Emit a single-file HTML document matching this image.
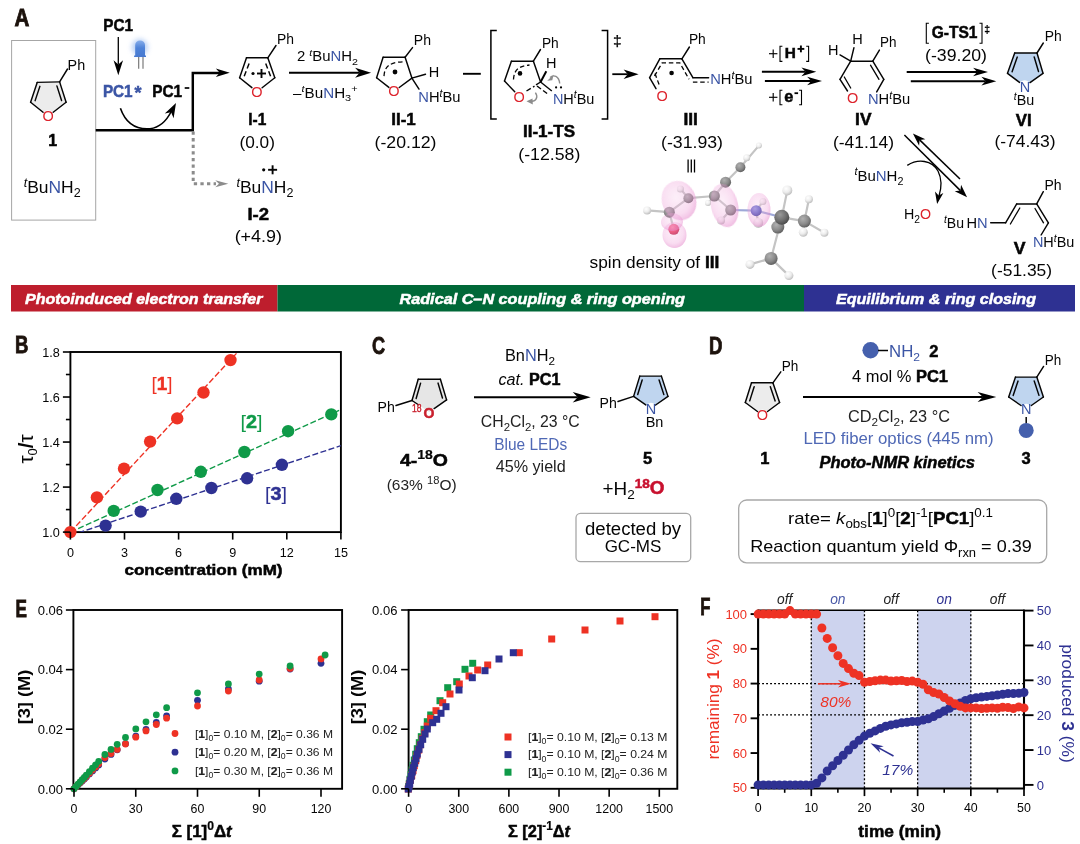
<!DOCTYPE html>
<html><head><meta charset="utf-8"><title>Figure</title>
<style>html,body{margin:0;padding:0;background:#fff}svg{display:block}text{font-family:"Liberation Sans",sans-serif}</style>
</head><body>
<svg width="1080" height="844" viewBox="0 0 1080 844">
<rect width="1080" height="844" fill="#fff"/>
<defs>
<filter id="blur05" x="-30%" y="-30%" width="160%" height="160%"><feGaussianBlur stdDeviation="0.6"/></filter>
<filter id="blur1" x="-30%" y="-30%" width="160%" height="160%"><feGaussianBlur stdDeviation="1.2"/></filter>
<filter id="blur2" x="-50%" y="-50%" width="200%" height="200%"><feGaussianBlur stdDeviation="2.6"/></filter>
<radialGradient id="gH" cx="38%" cy="32%" r="70%"><stop offset="0" stop-color="#ffffff"/><stop offset="0.55" stop-color="#ececec"/><stop offset="1" stop-color="#bdbdbd"/></radialGradient>
<radialGradient id="gC" cx="38%" cy="32%" r="70%"><stop offset="0" stop-color="#b0b0b0"/><stop offset="0.6" stop-color="#8a8a8a"/><stop offset="1" stop-color="#5e5e5e"/></radialGradient>
<radialGradient id="gCd" cx="38%" cy="32%" r="70%"><stop offset="0" stop-color="#9a9a9a"/><stop offset="0.6" stop-color="#6e6e6e"/><stop offset="1" stop-color="#4a4a4a"/></radialGradient>
<radialGradient id="gO" cx="38%" cy="32%" r="70%"><stop offset="0" stop-color="#ff6d86"/><stop offset="0.6" stop-color="#e8365a"/><stop offset="1" stop-color="#b81f42"/></radialGradient>
<radialGradient id="gN" cx="38%" cy="32%" r="70%"><stop offset="0" stop-color="#8f92e0"/><stop offset="0.6" stop-color="#5b5fc4"/><stop offset="1" stop-color="#3a3d9a"/></radialGradient>
<radialGradient id="gLobe" cx="45%" cy="40%" r="60%"><stop offset="0" stop-color="#f6c6e8" stop-opacity="0.28"/><stop offset="0.7" stop-color="#ee9fd8" stop-opacity="0.36"/><stop offset="1" stop-color="#e58acb" stop-opacity="0.55"/></radialGradient>
<linearGradient id="gLed" x1="0" y1="0" x2="0" y2="1"><stop offset="0" stop-color="#86aeeb"/><stop offset="0.45" stop-color="#4f83d8"/><stop offset="1" stop-color="#4678d0"/></linearGradient>
</defs>
<text transform="translate(14.50,26.00) scale(0.84,1)" font-size="24.5" font-weight="bold" fill="#1c120c" stroke="#1c120c" stroke-width="0.85">A</text>
<rect x="11.6" y="40.5" width="84.1" height="179.6" fill="none" stroke="#a6a6a6" stroke-width="1"/>
<polygon points="59.6,81.9 37.2,82.4 30.6,102.2 48.1,116.3 66.1,102.2" fill="#ececec"/>
<circle cx="48.1" cy="116.3" r="6" fill="#fff"/>
<line x1="59.60" y1="81.90" x2="37.20" y2="82.40" stroke="#050505" stroke-width="1.45" stroke-linecap="round"/>
<line x1="37.20" y1="82.40" x2="30.60" y2="102.20" stroke="#050505" stroke-width="1.45" stroke-linecap="round"/>
<line x1="30.60" y1="102.20" x2="43.04" y2="112.22" stroke="#050505" stroke-width="1.45" stroke-linecap="round"/>
<line x1="53.22" y1="112.29" x2="66.10" y2="102.20" stroke="#050505" stroke-width="1.45" stroke-linecap="round"/>
<line x1="66.10" y1="102.20" x2="59.60" y2="81.90" stroke="#050505" stroke-width="1.45" stroke-linecap="round"/>
<line x1="39.88" y1="86.37" x2="35.13" y2="100.63" stroke="#050505" stroke-width="1.45" stroke-linecap="round"/>
<line x1="61.57" y1="100.52" x2="56.89" y2="85.90" stroke="#050505" stroke-width="1.45" stroke-linecap="round"/>
<line x1="59.60" y1="81.90" x2="67.50" y2="69.00" stroke="#050505" stroke-width="1.45" stroke-linecap="round"/>
<text x="67.60" y="70.00" font-size="14.50" fill="#050505" textLength="17.60" lengthAdjust="spacingAndGlyphs"><tspan >Ph</tspan></text>
<text x="48.10" y="121.30" font-size="14.50" fill="#dd232c" text-anchor="middle"><tspan >O</tspan></text>
<text x="52.80" y="145.70" font-size="16.00" fill="#050505" text-anchor="middle" font-weight="bold"><tspan font-weight="bold" stroke="#050505" stroke-width="0.50">1</tspan></text>
<text x="23.70" y="192.60" font-size="16.50" fill="#050505" textLength="57.00" lengthAdjust="spacingAndGlyphs"><tspan dy="-6.10" font-size="11.88" font-style="italic">t</tspan><tspan dy="6.10">Bu</tspan><tspan fill="#3b55a5">N</tspan><tspan >H</tspan><tspan dy="4.62" font-size="11.88">2</tspan></text>
<text x="103.30" y="30.60" font-size="16.50" fill="#050505" font-weight="bold" textLength="29.70" lengthAdjust="spacingAndGlyphs"><tspan font-weight="bold" stroke="#050505" stroke-width="0.50">PC1</tspan></text>
<line x1="118.30" y1="37.00" x2="118.30" y2="64.40" stroke="#000" stroke-width="1.30" />
<polygon points="118.30,75.20 113.55,60.20 118.30,64.40 123.05,60.20" fill="#000"/>
<circle cx="139.8" cy="47.2" r="8.2" fill="#a9c6f3" opacity="0.8" filter="url(#blur2)"/>
<path d="M135.2,55.4 V45 a4.9,4.6 0 0 1 9.8,0 V55.4 H146 V57 H134.1 V55.4 Z" fill="url(#gLed)" filter="url(#blur05)"/>
<line x1="138.70" y1="57.00" x2="138.70" y2="68.70" stroke="#6e6e6e" stroke-width="1.10" />
<line x1="143.00" y1="57.00" x2="143.00" y2="68.70" stroke="#6e6e6e" stroke-width="1.10" />
<text x="102.90" y="96.90" font-size="16.50" fill="#3b55a5" font-weight="bold" textLength="29.70" lengthAdjust="spacingAndGlyphs"><tspan font-weight="bold" stroke="#3b55a5" stroke-width="0.50">PC1</tspan></text>
<text x="134.60" y="99.30" font-size="18.00" fill="#3b55a5" font-weight="bold"><tspan font-weight="bold" stroke="#3b55a5" stroke-width="0.50">*</tspan></text>
<text x="152.20" y="96.90" font-size="16.50" fill="#050505" font-weight="bold" textLength="29.90" lengthAdjust="spacingAndGlyphs"><tspan font-weight="bold" stroke="#050505" stroke-width="0.50">PC1</tspan></text>
<line x1="184.70" y1="88.00" x2="189.30" y2="88.00" stroke="#000" stroke-width="1.70" />
<path d="M95.7,130.2 H192.8 V73 H220" fill="none" stroke="#000" stroke-width="2.45" stroke-linejoin="miter"/>
<polygon points="229.80,72.80 215.80,77.05 219.72,72.80 215.80,68.55" fill="#000"/>
<path d="M120.4,108.3 C127,127 140,129.5 150,128.7 C160,127.5 167,120 171.5,111" fill="none" stroke="#000" stroke-width="1.6"/>
<polygon points="176.00,103.00 173.61,118.15 171.10,112.22 164.78,113.46" fill="#000"/>
<path d="M193.2,131.5 V183.7 H216" fill="none" stroke="#8c8c8c" stroke-width="3" stroke-dasharray="3.3,3.3"/>
<polygon points="228.30,183.70 215.30,187.20 218.94,183.70 215.30,180.20" fill="#8c8c8c"/>
<line x1="267.80" y1="57.80" x2="246.50" y2="57.80" stroke="#050505" stroke-width="1.45" stroke-linecap="round"/>
<line x1="246.50" y1="57.80" x2="239.60" y2="77.80" stroke="#050505" stroke-width="1.45" stroke-linecap="round"/>
<line x1="239.60" y1="77.80" x2="251.92" y2="87.64" stroke="#050505" stroke-width="1.45" stroke-linecap="round"/>
<line x1="262.12" y1="87.70" x2="274.80" y2="77.80" stroke="#050505" stroke-width="1.45" stroke-linecap="round"/>
<line x1="274.80" y1="77.80" x2="267.80" y2="57.80" stroke="#050505" stroke-width="1.45" stroke-linecap="round"/>
<line x1="249.10" y1="63.60" x2="244.20" y2="76.20" stroke="#050505" stroke-width="1.45" stroke-dasharray="5.3,2.9"/>
<line x1="265.70" y1="63.60" x2="270.60" y2="76.20" stroke="#050505" stroke-width="1.45" stroke-dasharray="5.3,2.9"/>
<line x1="267.80" y1="57.80" x2="276.00" y2="45.50" stroke="#050505" stroke-width="1.45" stroke-linecap="round"/>
<text x="277.00" y="44.40" font-size="14.50" fill="#050505" textLength="17.00" lengthAdjust="spacingAndGlyphs"><tspan >Ph</tspan></text>
<text x="257.00" y="96.60" font-size="14.50" fill="#dd232c" text-anchor="middle"><tspan >O</tspan></text>
<circle cx="253.00" cy="73.50" r="1.60" fill="#050505"/>
<line x1="257.00" y1="73.50" x2="266.00" y2="73.50" stroke="#050505" stroke-width="1.90" />
<line x1="261.50" y1="69.00" x2="261.50" y2="78.00" stroke="#050505" stroke-width="1.90" />
<text x="257.30" y="125.00" font-size="16.50" fill="#050505" text-anchor="middle" font-weight="bold" textLength="18.00" lengthAdjust="spacingAndGlyphs"><tspan font-weight="bold" stroke="#050505" stroke-width="0.50">I-1</tspan></text>
<text x="257.20" y="148.10" font-size="16.00" fill="#050505" text-anchor="middle" textLength="35.40" lengthAdjust="spacingAndGlyphs"><tspan >(0.0)</tspan></text>
<text x="236.40" y="192.60" font-size="16.50" fill="#050505" textLength="57.00" lengthAdjust="spacingAndGlyphs"><tspan dy="-6.10" font-size="11.88" font-style="italic">t</tspan><tspan dy="6.10">Bu</tspan><tspan fill="#3b55a5">N</tspan><tspan >H</tspan><tspan dy="4.62" font-size="11.88">2</tspan></text>
<circle cx="263.70" cy="169.80" r="1.60" fill="#050505"/>
<line x1="268.10" y1="169.80" x2="277.10" y2="169.80" stroke="#050505" stroke-width="1.90" />
<line x1="272.60" y1="165.30" x2="272.60" y2="174.30" stroke="#050505" stroke-width="1.90" />
<text x="258.20" y="220.30" font-size="16.50" fill="#050505" text-anchor="middle" font-weight="bold" textLength="21.60" lengthAdjust="spacingAndGlyphs"><tspan font-weight="bold" stroke="#050505" stroke-width="0.50">I-2</tspan></text>
<text x="258.30" y="242.40" font-size="16.00" fill="#050505" text-anchor="middle" textLength="47.30" lengthAdjust="spacingAndGlyphs"><tspan >(+4.9)</tspan></text>
<line x1="289.00" y1="72.80" x2="359.58" y2="72.80" stroke="#000" stroke-width="2.00" />
<polygon points="371.10,72.80 355.10,77.80 359.58,72.80 355.10,67.80" fill="#000"/>
<text x="296.90" y="60.70" font-size="13.80" fill="#050505" textLength="61.20" lengthAdjust="spacingAndGlyphs"><tspan >2 </tspan><tspan dy="-5.11" font-size="9.94" font-style="italic">t</tspan><tspan dy="5.11">Bu</tspan><tspan fill="#3b55a5">N</tspan><tspan >H</tspan><tspan dy="3.86" font-size="9.94">2</tspan></text>
<text x="293.10" y="97.60" font-size="13.80" fill="#050505" textLength="64.50" lengthAdjust="spacingAndGlyphs"><tspan >–</tspan><tspan dy="-5.11" font-size="9.94" font-style="italic">t</tspan><tspan dy="5.11">Bu</tspan><tspan fill="#3b55a5">N</tspan><tspan >H</tspan><tspan dy="3.86" font-size="9.94">3</tspan><tspan dy="-8.97" font-size="9.94">+</tspan></text>
<line x1="405.10" y1="57.30" x2="383.10" y2="57.30" stroke="#050505" stroke-width="1.45" stroke-linecap="round"/>
<line x1="383.10" y1="57.30" x2="376.60" y2="77.70" stroke="#050505" stroke-width="1.45" stroke-linecap="round"/>
<line x1="376.60" y1="77.70" x2="388.89" y2="87.38" stroke="#050505" stroke-width="1.45" stroke-linecap="round"/>
<line x1="399.22" y1="87.52" x2="411.90" y2="78.10" stroke="#050505" stroke-width="1.45" stroke-linecap="round"/>
<line x1="411.90" y1="78.10" x2="405.10" y2="57.30" stroke="#050505" stroke-width="1.45" stroke-linecap="round"/>
<path d="M384,76.1 C384.5,67 389,62.3 403,61.8" fill="none" stroke="#050505" stroke-width="1.3" stroke-dasharray="4.5,2.8"/>
<line x1="405.10" y1="57.30" x2="412.50" y2="47.60" stroke="#050505" stroke-width="1.45" stroke-linecap="round"/>
<text x="413.80" y="44.70" font-size="14.50" fill="#050505" textLength="17.20" lengthAdjust="spacingAndGlyphs"><tspan >Ph</tspan></text>
<text x="394.00" y="96.40" font-size="14.50" fill="#dd232c" text-anchor="middle"><tspan >O</tspan></text>
<circle cx="395.00" cy="72.00" r="2.40" fill="#050505"/>
<line x1="411.90" y1="78.10" x2="425.50" y2="74.20" stroke="#050505" stroke-width="1.45" stroke-linecap="round"/>
<text x="428.70" y="77.40" font-size="14.50" fill="#050505"><tspan >H</tspan></text>
<line x1="411.90" y1="78.10" x2="419.00" y2="89.10" stroke="#050505" stroke-width="1.45" stroke-linecap="round"/>
<text x="418.30" y="102.30" font-size="14.50" fill="#050505" textLength="42.20" lengthAdjust="spacingAndGlyphs"><tspan fill="#3b55a5">N</tspan><tspan >H</tspan><tspan dy="-5.37" font-size="10.44" font-style="italic">t</tspan><tspan dy="5.37">Bu</tspan></text>
<text x="403.50" y="125.00" font-size="16.50" fill="#050505" text-anchor="middle" font-weight="bold" textLength="24.50" lengthAdjust="spacingAndGlyphs"><tspan font-weight="bold" stroke="#050505" stroke-width="0.50">II-1</tspan></text>
<text x="405.50" y="148.10" font-size="16.00" fill="#050505" text-anchor="middle" textLength="62.00" lengthAdjust="spacingAndGlyphs"><tspan >(-20.12)</tspan></text>
<line x1="463.00" y1="73.80" x2="480.80" y2="73.80" stroke="#000" stroke-width="1.90" />
<path d="M496.8,30.6 H490.9 V118.9 H496.8" fill="none" stroke="#000" stroke-width="1.5"/>
<path d="M601.6,30.6 H607.6 V118.9 H601.6" fill="none" stroke="#000" stroke-width="1.5"/>
<text x="617.20" y="46.00" font-size="15.50" fill="#000" text-anchor="middle" stroke="#000" stroke-width="0.25"><tspan >‡</tspan></text>
<line x1="533.40" y1="61.20" x2="511.40" y2="61.20" stroke="#050505" stroke-width="1.45" stroke-linecap="round"/>
<line x1="511.40" y1="61.20" x2="504.50" y2="81.00" stroke="#050505" stroke-width="1.45" stroke-linecap="round"/>
<line x1="504.50" y1="81.00" x2="514.73" y2="91.78" stroke="#050505" stroke-width="1.45" stroke-linecap="round"/>
<line x1="540.60" y1="82.00" x2="533.40" y2="61.20" stroke="#050505" stroke-width="1.45" stroke-linecap="round"/>
<line x1="526.50" y1="91.00" x2="534.50" y2="86.20" stroke="#050505" stroke-width="1.40" stroke-dasharray="5,2.6"/>
<line x1="536.00" y1="84.80" x2="540.60" y2="82.00" stroke="#050505" stroke-width="1.40" />
<path d="M513.5,79.5 C514,70 518.5,66 529.5,65" fill="none" stroke="#050505" stroke-width="1.3" stroke-dasharray="4.5,2.8"/>
<line x1="533.40" y1="61.20" x2="540.50" y2="49.50" stroke="#050505" stroke-width="1.45" stroke-linecap="round"/>
<text x="541.90" y="47.90" font-size="14.50" fill="#050505" textLength="16.80" lengthAdjust="spacingAndGlyphs"><tspan >Ph</tspan></text>
<text x="519.20" y="101.50" font-size="14.50" fill="#dd232c" text-anchor="middle"><tspan >O</tspan></text>
<circle cx="520.00" cy="73.40" r="2.30" fill="#050505"/>
<text x="546.00" y="67.50" font-size="14.50" fill="#050505"><tspan >H</tspan></text>
<line x1="540.60" y1="82.00" x2="546.30" y2="71.30" stroke="#000" stroke-width="2.00" />
<line x1="540.60" y1="82.00" x2="551.80" y2="91.00" stroke="#050505" stroke-width="1.40" />
<line x1="537.00" y1="86.00" x2="549.00" y2="95.00" stroke="#050505" stroke-width="1.40" stroke-dasharray="5,2.6"/>
<text x="552.90" y="103.60" font-size="14.50" fill="#050505" textLength="41.50" lengthAdjust="spacingAndGlyphs"><tspan fill="#3b55a5">N</tspan><tspan >H</tspan><tspan dy="-5.37" font-size="10.44" font-style="italic">t</tspan><tspan dy="5.37">Bu</tspan></text>
<circle cx="556.10" cy="87.40" r="1.10" fill="#050505"/>
<circle cx="561.00" cy="87.40" r="1.10" fill="#050505"/>
<path d="M559.7,83.5 C559,76 553.5,74.2 550,77.5" fill="none" stroke="#8c8c8c" stroke-width="1.4"/>
<polygon points="547.2,80.8 553.6,74.8 552.3,80.2" fill="#8c8c8c"/>
<path d="M535.4,92.6 C538.5,97 536,101.5 531.5,101.3" fill="none" stroke="#8c8c8c" stroke-width="1.4"/>
<polygon points="526.5,101.2 532.5,98.6 532.8,104.6" fill="#8c8c8c"/>
<text x="549.00" y="137.00" font-size="16.50" fill="#050505" text-anchor="middle" font-weight="bold" textLength="52.00" lengthAdjust="spacingAndGlyphs"><tspan font-weight="bold" stroke="#050505" stroke-width="0.50">II-1-TS</tspan></text>
<text x="549.30" y="159.80" font-size="16.00" fill="#050505" text-anchor="middle" textLength="62.00" lengthAdjust="spacingAndGlyphs"><tspan >(-12.58)</tspan></text>
<line x1="612.30" y1="74.20" x2="627.80" y2="74.20" stroke="#000" stroke-width="1.80" />
<polygon points="638.60,74.20 623.60,78.90 627.80,74.20 623.60,69.50" fill="#000"/>
<line x1="649.60" y1="77.70" x2="659.80" y2="58.80" stroke="#050505" stroke-width="1.45" stroke-linecap="round"/>
<line x1="659.80" y1="58.80" x2="681.90" y2="58.80" stroke="#050505" stroke-width="1.45" stroke-linecap="round"/>
<line x1="681.90" y1="58.80" x2="692.90" y2="77.70" stroke="#050505" stroke-width="1.45" stroke-linecap="round"/>
<line x1="692.90" y1="77.70" x2="708.60" y2="77.70" stroke="#050505" stroke-width="1.45" stroke-linecap="round"/>
<line x1="649.60" y1="77.70" x2="656.00" y2="88.70" stroke="#050505" stroke-width="1.45" stroke-linecap="round"/>
<line x1="655.00" y1="73.50" x2="659.60" y2="86.00" stroke="#050505" stroke-width="1.30" stroke-dasharray="4.5,2.8"/>
<path d="M654.5,76 L662.2,62.8 H679.8 L689,79.2" fill="none" stroke="#050505" stroke-width="1.3" stroke-dasharray="4.5,2.8"/>
<line x1="692.90" y1="82.10" x2="708.60" y2="82.10" stroke="#050505" stroke-width="1.30" stroke-dasharray="4.5,2.8"/>
<line x1="681.90" y1="58.80" x2="689.40" y2="47.00" stroke="#050505" stroke-width="1.45" stroke-linecap="round"/>
<text x="688.90" y="44.30" font-size="14.50" fill="#050505" textLength="16.90" lengthAdjust="spacingAndGlyphs"><tspan >Ph</tspan></text>
<text x="662.20" y="100.80" font-size="14.50" fill="#dd232c" text-anchor="middle"><tspan >O</tspan></text>
<circle cx="671.60" cy="73.00" r="2.30" fill="#050505"/>
<text x="710.20" y="84.30" font-size="14.50" fill="#050505" textLength="42.20" lengthAdjust="spacingAndGlyphs"><tspan fill="#3b55a5">N</tspan><tspan >H</tspan><tspan dy="-5.37" font-size="10.44" font-style="italic">t</tspan><tspan dy="5.37">Bu</tspan></text>
<text x="690.70" y="125.00" font-size="16.50" fill="#050505" text-anchor="middle" font-weight="bold" textLength="14.50" lengthAdjust="spacingAndGlyphs"><tspan font-weight="bold" stroke="#050505" stroke-width="0.50">III</tspan></text>
<text x="692.00" y="148.10" font-size="16.00" fill="#050505" text-anchor="middle" textLength="62.00" lengthAdjust="spacingAndGlyphs"><tspan >(-31.93)</tspan></text>
<line x1="688.10" y1="159.50" x2="688.10" y2="172.50" stroke="#000" stroke-width="1.30" />
<line x1="691.30" y1="159.50" x2="691.30" y2="172.50" stroke="#000" stroke-width="1.30" />
<line x1="694.50" y1="159.50" x2="694.50" y2="172.50" stroke="#000" stroke-width="1.30" />
<line x1="761.90" y1="71.80" x2="805.57" y2="71.80" stroke="#000" stroke-width="2.10" />
<polygon points="816.30,71.80 801.40,76.15 805.57,71.80 801.40,67.45" fill="#000"/>
<line x1="764.90" y1="81.00" x2="811.27" y2="81.00" stroke="#000" stroke-width="2.10" />
<polygon points="822.00,81.00 807.10,85.35 811.27,81.00 807.10,76.65" fill="#000"/>
<line x1="769.00" y1="53.70" x2="777.40" y2="53.70" stroke="#050505" stroke-width="1.15" />
<line x1="773.20" y1="49.50" x2="773.20" y2="57.90" stroke="#050505" stroke-width="1.15" />
<path d="M782.4,46.3 H780 V61.4 H782.4" fill="none" stroke="#000" stroke-width="1.1"/>
<path d="M806.2,46.3 H808.6 V61.4 H806.2" fill="none" stroke="#000" stroke-width="1.1"/>
<text x="784.70" y="58.20" font-size="15.50" fill="#050505" font-weight="bold" textLength="11.10" lengthAdjust="spacingAndGlyphs"><tspan font-weight="bold" stroke="#050505" stroke-width="0.50">H</tspan></text>
<line x1="797.50" y1="48.90" x2="804.30" y2="48.90" stroke="#050505" stroke-width="1.90" />
<line x1="800.90" y1="45.50" x2="800.90" y2="52.30" stroke="#050505" stroke-width="1.90" />
<line x1="769.00" y1="97.30" x2="777.40" y2="97.30" stroke="#050505" stroke-width="1.15" />
<line x1="773.20" y1="93.10" x2="773.20" y2="101.50" stroke="#050505" stroke-width="1.15" />
<path d="M782.4,90.3 H780 V104.8 H782.4" fill="none" stroke="#000" stroke-width="1.1"/>
<path d="M799.1,90.3 H801.5 V104.8 H799.1" fill="none" stroke="#000" stroke-width="1.1"/>
<text x="784.20" y="102.30" font-size="16.00" fill="#050505" font-weight="bold" textLength="9.10" lengthAdjust="spacingAndGlyphs"><tspan font-weight="bold" stroke="#050505" stroke-width="0.50">e</tspan></text>
<line x1="794.50" y1="93.20" x2="798.10" y2="93.20" stroke="#000" stroke-width="1.80" />
<line x1="840.00" y1="79.30" x2="850.70" y2="61.20" stroke="#050505" stroke-width="1.45" stroke-linecap="round"/>
<line x1="850.70" y1="61.20" x2="872.80" y2="61.20" stroke="#050505" stroke-width="1.45" stroke-linecap="round"/>
<line x1="872.80" y1="61.20" x2="883.80" y2="79.30" stroke="#050505" stroke-width="1.45" stroke-linecap="round"/>
<line x1="840.00" y1="79.30" x2="847.50" y2="91.00" stroke="#050505" stroke-width="1.45" stroke-linecap="round"/>
<line x1="844.30" y1="77.00" x2="850.70" y2="88.00" stroke="#050505" stroke-width="1.30" stroke-linecap="round"/>
<line x1="870.50" y1="65.20" x2="879.00" y2="79.30" stroke="#050505" stroke-width="1.30" stroke-linecap="round"/>
<line x1="850.70" y1="61.20" x2="840.00" y2="54.90" stroke="#050505" stroke-width="1.45" stroke-linecap="round"/>
<line x1="850.70" y1="61.20" x2="853.90" y2="47.80" stroke="#050505" stroke-width="1.45" stroke-linecap="round"/>
<text x="827.90" y="54.90" font-size="14.50" fill="#050505"><tspan >H</tspan></text>
<text x="852.30" y="44.30" font-size="14.50" fill="#050505"><tspan >H</tspan></text>
<line x1="872.80" y1="61.20" x2="879.40" y2="50.10" stroke="#050505" stroke-width="1.45" stroke-linecap="round"/>
<text x="879.90" y="47.00" font-size="14.50" fill="#050505" textLength="16.50" lengthAdjust="spacingAndGlyphs"><tspan >Ph</tspan></text>
<line x1="883.80" y1="79.30" x2="876.70" y2="91.90" stroke="#050505" stroke-width="1.45" stroke-linecap="round"/>
<text x="852.60" y="103.20" font-size="14.50" fill="#dd232c" text-anchor="middle"><tspan >O</tspan></text>
<text x="868.00" y="104.00" font-size="14.50" fill="#050505" textLength="42.20" lengthAdjust="spacingAndGlyphs"><tspan fill="#3b55a5">N</tspan><tspan >H</tspan><tspan dy="-5.37" font-size="10.44" font-style="italic">t</tspan><tspan dy="5.37">Bu</tspan></text>
<text x="863.30" y="124.80" font-size="16.50" fill="#050505" text-anchor="middle" font-weight="bold" textLength="16.40" lengthAdjust="spacingAndGlyphs"><tspan font-weight="bold" stroke="#050505" stroke-width="0.50">IV</tspan></text>
<text x="863.50" y="148.10" font-size="16.00" fill="#050505" text-anchor="middle" textLength="61.00" lengthAdjust="spacingAndGlyphs"><tspan >(-41.14)</tspan></text>
<line x1="906.70" y1="72.00" x2="977.27" y2="72.00" stroke="#000" stroke-width="2.10" />
<polygon points="988.00,72.00 973.10,76.35 977.27,72.00 973.10,67.65" fill="#000"/>
<line x1="910.80" y1="81.20" x2="985.57" y2="81.20" stroke="#000" stroke-width="2.10" />
<polygon points="996.30,81.20 981.40,85.55 985.57,81.20 981.40,76.85" fill="#000"/>
<path d="M928.9,23.3 H926.3 V43.3 H928.9" fill="none" stroke="#000" stroke-width="1.1"/>
<path d="M979.5,23.3 H982 V43.3 H979.5" fill="none" stroke="#000" stroke-width="1.1"/>
<text x="931.70" y="37.50" font-size="16.50" fill="#050505" font-weight="bold" textLength="45.80" lengthAdjust="spacingAndGlyphs"><tspan font-weight="bold" stroke="#050505" stroke-width="0.50">G-TS1</tspan></text>
<text x="987.20" y="32.60" font-size="10.50" fill="#000" text-anchor="middle" font-weight="bold"><tspan font-weight="bold" stroke="#000" stroke-width="0.20">‡</tspan></text>
<text x="956.00" y="60.80" font-size="16.00" fill="#050505" text-anchor="middle" textLength="62.00" lengthAdjust="spacingAndGlyphs"><tspan >(-39.20)</tspan></text>
<polygon points="1037.0,53.0 1014.7,53.0 1007.5,73.3 1024.7,86.3 1043.0,73.3" fill="#bfd5ef"/>
<circle cx="1024.7" cy="86.3" r="6" fill="#fff"/>
<line x1="1037.00" y1="53.00" x2="1014.70" y2="53.00" stroke="#050505" stroke-width="1.45" stroke-linecap="round"/>
<line x1="1014.70" y1="53.00" x2="1007.50" y2="73.30" stroke="#050505" stroke-width="1.45" stroke-linecap="round"/>
<line x1="1007.50" y1="73.30" x2="1019.51" y2="82.38" stroke="#050505" stroke-width="1.45" stroke-linecap="round"/>
<line x1="1030.00" y1="82.54" x2="1043.00" y2="73.30" stroke="#050505" stroke-width="1.45" stroke-linecap="round"/>
<line x1="1043.00" y1="73.30" x2="1037.00" y2="53.00" stroke="#050505" stroke-width="1.45" stroke-linecap="round"/>
<line x1="1017.27" y1="57.11" x2="1012.09" y2="71.73" stroke="#050505" stroke-width="1.45" stroke-linecap="round"/>
<line x1="1038.52" y1="71.54" x2="1034.20" y2="56.92" stroke="#050505" stroke-width="1.45" stroke-linecap="round"/>
<line x1="1037.00" y1="53.00" x2="1043.30" y2="43.00" stroke="#050505" stroke-width="1.45" stroke-linecap="round"/>
<text x="1044.70" y="40.50" font-size="14.50" fill="#050505" textLength="17.00" lengthAdjust="spacingAndGlyphs"><tspan >Ph</tspan></text>
<text x="1024.90" y="91.70" font-size="14.50" fill="#3b55a5" text-anchor="middle"><tspan >N</tspan></text>
<text x="1013.80" y="105.30" font-size="14.50" fill="#050505" textLength="20.40" lengthAdjust="spacingAndGlyphs"><tspan dy="-5.37" font-size="10.44" font-style="italic">t</tspan><tspan dy="5.37">Bu</tspan></text>
<text x="1023.80" y="125.60" font-size="16.50" fill="#050505" text-anchor="middle" font-weight="bold" textLength="15.90" lengthAdjust="spacingAndGlyphs"><tspan font-weight="bold" stroke="#050505" stroke-width="0.50">VI</tspan></text>
<text x="1025.00" y="147.20" font-size="16.00" fill="#050505" text-anchor="middle" textLength="61.20" lengthAdjust="spacingAndGlyphs"><tspan >(-74.43)</tspan></text>
<line x1="960.00" y1="179.00" x2="919.62" y2="139.91" stroke="#000" stroke-width="1.50" />
<polygon points="912.90,133.40 925.37,139.21 919.62,139.91 919.11,145.68" fill="#000"/>
<line x1="904.40" y1="135.00" x2="960.46" y2="190.61" stroke="#000" stroke-width="1.50" />
<polygon points="967.10,197.20 954.70,191.24 960.46,190.61 961.04,184.85" fill="#000"/>
<path d="M907.3,165.4 C918,158.5 932,160 938,171 C942,179 941.5,188 939,196" fill="none" stroke="#000" stroke-width="1.3"/>
<polygon points="937.10,204.00 935.00,191.44 938.60,195.49 943.37,192.92" fill="#000"/>
<text x="854.40" y="180.60" font-size="14.00" fill="#050505" textLength="49.00" lengthAdjust="spacingAndGlyphs"><tspan dy="-5.18" font-size="10.08" font-style="italic">t</tspan><tspan dy="5.18">Bu</tspan><tspan fill="#3b55a5">N</tspan><tspan >H</tspan><tspan dy="3.92" font-size="10.08">2</tspan></text>
<text x="904.00" y="219.40" font-size="14.00" fill="#050505" textLength="27.10" lengthAdjust="spacingAndGlyphs"><tspan >H</tspan><tspan dy="3.92" font-size="10.08">2</tspan><tspan dy="-3.92" fill="#dd232c">O</tspan></text>
<text x="944.00" y="228.30" font-size="14.00" fill="#050505" textLength="20.00" lengthAdjust="spacingAndGlyphs"><tspan dy="-5.18" font-size="10.08" font-style="italic">t</tspan><tspan dy="5.18">Bu</tspan></text>
<text x="966.40" y="228.30" font-size="14.00" fill="#050505" textLength="21.20" lengthAdjust="spacingAndGlyphs"><tspan >H</tspan><tspan fill="#3b55a5">N</tspan></text>
<line x1="990.70" y1="222.80" x2="1005.60" y2="222.80" stroke="#050505" stroke-width="1.45" stroke-linecap="round"/>
<line x1="1005.60" y1="222.80" x2="1016.70" y2="203.90" stroke="#050505" stroke-width="1.45" stroke-linecap="round"/>
<line x1="1016.70" y1="203.90" x2="1036.70" y2="203.90" stroke="#050505" stroke-width="1.45" stroke-linecap="round"/>
<line x1="1036.70" y1="203.90" x2="1048.40" y2="222.80" stroke="#050505" stroke-width="1.45" stroke-linecap="round"/>
<line x1="1010.40" y1="224.00" x2="1019.80" y2="208.00" stroke="#050505" stroke-width="1.30" stroke-linecap="round"/>
<line x1="1035.00" y1="208.50" x2="1043.50" y2="222.80" stroke="#050505" stroke-width="1.30" stroke-linecap="round"/>
<line x1="1036.70" y1="203.90" x2="1043.30" y2="191.70" stroke="#050505" stroke-width="1.45" stroke-linecap="round"/>
<text x="1044.40" y="189.90" font-size="14.00" fill="#050505" textLength="17.20" lengthAdjust="spacingAndGlyphs"><tspan >Ph</tspan></text>
<line x1="1048.40" y1="222.80" x2="1041.10" y2="235.00" stroke="#050505" stroke-width="1.45" stroke-linecap="round"/>
<text x="1032.90" y="246.80" font-size="14.00" fill="#050505" textLength="41.50" lengthAdjust="spacingAndGlyphs"><tspan fill="#3b55a5">N</tspan><tspan >H</tspan><tspan dy="-5.18" font-size="10.08" font-style="italic">t</tspan><tspan dy="5.18">Bu</tspan></text>
<text x="1019.70" y="253.90" font-size="16.50" fill="#050505" text-anchor="middle" font-weight="bold" textLength="11.80" lengthAdjust="spacingAndGlyphs"><tspan font-weight="bold" stroke="#050505" stroke-width="0.50">V</tspan></text>
<text x="1021.60" y="276.00" font-size="16.00" fill="#050505" text-anchor="middle" textLength="61.00" lengthAdjust="spacingAndGlyphs"><tspan >(-51.35)</tspan></text>
<text x="589.60" y="267.60" font-size="17.00" fill="#050505" textLength="129.70" lengthAdjust="spacingAndGlyphs"><tspan >spin density of </tspan><tspan font-weight="bold" stroke="#050505" stroke-width="0.50">III</tspan></text>
<rect x="11" y="285" width="266.5" height="26.5" fill="#be1e2d"/>
<rect x="277.5" y="285" width="526.5" height="26.5" fill="#006838"/>
<rect x="804" y="285" width="271" height="26.5" fill="#2e3192"/>
<text x="25.00" y="303.50" font-size="14.50" fill="#fff" font-weight="bold" font-style="italic" textLength="237.50" lengthAdjust="spacingAndGlyphs"><tspan font-weight="bold" stroke="#fff" stroke-width="0.50">Photoinduced electron transfer</tspan></text>
<text x="399.50" y="303.50" font-size="14.50" fill="#fff" font-weight="bold" font-style="italic" textLength="285.50" lengthAdjust="spacingAndGlyphs"><tspan font-weight="bold" stroke="#fff" stroke-width="0.50">Radical C–N coupling &amp; ring opening</tspan></text>
<text x="836.00" y="303.50" font-size="14.50" fill="#fff" font-weight="bold" font-style="italic" textLength="200.00" lengthAdjust="spacingAndGlyphs"><tspan font-weight="bold" stroke="#fff" stroke-width="0.50">Equilibrium &amp; ring closing</tspan></text>
<g>
<line x1="758.90" y1="145.60" x2="740.40" y2="167.30" stroke="#c4c4c4" stroke-width="2.20" stroke-linecap="round"/>
<line x1="740.40" y1="167.30" x2="725.60" y2="182.20" stroke="#c4c4c4" stroke-width="2.20" stroke-linecap="round"/>
<line x1="725.60" y1="182.20" x2="714.40" y2="196.00" stroke="#c4c4c4" stroke-width="2.20" stroke-linecap="round"/>
<line x1="714.40" y1="196.00" x2="688.40" y2="198.20" stroke="#c4c4c4" stroke-width="2.20" stroke-linecap="round"/>
<line x1="688.40" y1="198.20" x2="680.40" y2="188.90" stroke="#c4c4c4" stroke-width="2.20" stroke-linecap="round"/>
<line x1="688.40" y1="198.20" x2="669.30" y2="212.20" stroke="#c4c4c4" stroke-width="2.20" stroke-linecap="round"/>
<line x1="669.30" y1="212.20" x2="647.10" y2="210.40" stroke="#c4c4c4" stroke-width="2.20" stroke-linecap="round"/>
<line x1="669.30" y1="212.20" x2="673.80" y2="229.30" stroke="#c4c4c4" stroke-width="2.20" stroke-linecap="round"/>
<line x1="714.40" y1="196.00" x2="730.70" y2="210.00" stroke="#c4c4c4" stroke-width="2.20" stroke-linecap="round"/>
<line x1="730.70" y1="210.00" x2="721.00" y2="220.40" stroke="#c4c4c4" stroke-width="2.20" stroke-linecap="round"/>
<line x1="714.40" y1="196.00" x2="708.00" y2="203.00" stroke="#c4c4c4" stroke-width="2.20" stroke-linecap="round"/>
<line x1="730.70" y1="210.00" x2="756.20" y2="210.70" stroke="#9fa8d8" stroke-width="2.20" stroke-linecap="round"/>
<line x1="756.20" y1="210.70" x2="762.90" y2="201.60" stroke="#c4c4c4" stroke-width="2.20" stroke-linecap="round"/>
<line x1="756.20" y1="210.70" x2="781.80" y2="217.30" stroke="#9fa8d8" stroke-width="2.20" stroke-linecap="round"/>
<line x1="781.80" y1="217.30" x2="787.30" y2="190.40" stroke="#c4c4c4" stroke-width="2.20" stroke-linecap="round"/>
<line x1="781.80" y1="217.30" x2="804.40" y2="221.10" stroke="#c4c4c4" stroke-width="2.20" stroke-linecap="round"/>
<line x1="804.40" y1="221.10" x2="808.90" y2="199.30" stroke="#c4c4c4" stroke-width="2.20" stroke-linecap="round"/>
<line x1="804.40" y1="221.10" x2="824.40" y2="232.70" stroke="#c4c4c4" stroke-width="2.20" stroke-linecap="round"/>
<line x1="804.40" y1="221.10" x2="803.30" y2="232.20" stroke="#c4c4c4" stroke-width="2.20" stroke-linecap="round"/>
<line x1="781.80" y1="217.30" x2="771.10" y2="258.40" stroke="#c4c4c4" stroke-width="2.20" stroke-linecap="round"/>
<line x1="771.10" y1="258.40" x2="750.00" y2="264.40" stroke="#c4c4c4" stroke-width="2.20" stroke-linecap="round"/>
<line x1="771.10" y1="258.40" x2="788.90" y2="275.60" stroke="#c4c4c4" stroke-width="2.20" stroke-linecap="round"/>
<line x1="781.80" y1="217.30" x2="777.80" y2="227.10" stroke="#c4c4c4" stroke-width="2.20" stroke-linecap="round"/>
<line x1="756.20" y1="210.70" x2="758.20" y2="222.90" stroke="#c4c4c4" stroke-width="2.20" stroke-linecap="round"/>
<circle cx="746.7" cy="157.8" r="3.5" fill="url(#gH)"/>
<circle cx="740.4" cy="167.3" r="5.0" fill="url(#gC)"/>
<circle cx="758.9" cy="145.6" r="3.0" fill="url(#gH)"/>
<circle cx="725.6" cy="182.2" r="5.5" fill="url(#gC)"/>
<circle cx="708.0" cy="203.0" r="3.0" fill="url(#gH)"/>
<circle cx="714.4" cy="196.0" r="5.5" fill="url(#gC)"/>
<circle cx="688.4" cy="198.2" r="5.0" fill="url(#gC)"/>
<circle cx="680.4" cy="188.9" r="3.5" fill="url(#gH)"/>
<circle cx="669.3" cy="212.2" r="5.5" fill="url(#gC)"/>
<circle cx="647.1" cy="210.4" r="4.0" fill="url(#gH)"/>
<circle cx="673.8" cy="229.3" r="5.5" fill="url(#gO)"/>
<circle cx="730.7" cy="210.0" r="5.5" fill="url(#gC)"/>
<circle cx="721.0" cy="220.4" r="4.0" fill="url(#gH)"/>
<circle cx="762.9" cy="201.6" r="3.5" fill="url(#gH)"/>
<circle cx="756.2" cy="210.7" r="5.5" fill="url(#gN)"/>
<circle cx="758.2" cy="222.9" r="5.0" fill="url(#gH)"/>
<circle cx="777.8" cy="227.1" r="6.5" fill="url(#gC)"/>
<circle cx="771.1" cy="258.4" r="6.5" fill="url(#gC)"/>
<circle cx="750.0" cy="264.4" r="4.5" fill="url(#gH)"/>
<circle cx="788.9" cy="275.6" r="4.5" fill="url(#gH)"/>
<circle cx="804.4" cy="221.1" r="6.5" fill="url(#gC)"/>
<circle cx="808.9" cy="199.3" r="4.0" fill="url(#gH)"/>
<circle cx="824.4" cy="232.7" r="4.0" fill="url(#gH)"/>
<circle cx="803.3" cy="232.2" r="4.5" fill="url(#gH)"/>
<circle cx="781.8" cy="217.3" r="7.5" fill="url(#gCd)"/>
<circle cx="787.3" cy="190.4" r="5.0" fill="url(#gH)"/>
<ellipse cx="679.0" cy="200.5" rx="17.0" ry="20.0" transform="rotate(-20 679.0 200.5)" fill="url(#gLobe)" filter="url(#blur05)"/>
<ellipse cx="674.5" cy="235.0" rx="12.0" ry="13.0" transform="rotate(0 674.5 235.0)" fill="url(#gLobe)" filter="url(#blur05)"/>
<ellipse cx="724.5" cy="205.5" rx="13.5" ry="22.0" transform="rotate(-12 724.5 205.5)" fill="url(#gLobe)" filter="url(#blur05)"/>
<ellipse cx="759.0" cy="210.0" rx="11.5" ry="17.0" transform="rotate(0 759.0 210.0)" fill="url(#gLobe)" filter="url(#blur05)"/>
<ellipse cx="672.0" cy="222.0" rx="11.0" ry="9.0" transform="rotate(0 672.0 222.0)" fill="url(#gLobe)" filter="url(#blur05)"/>
</g>
<text transform="translate(15.00,353.00) scale(0.76,1)" font-size="24.5" font-weight="bold" fill="#1c120c" stroke="#1c120c" stroke-width="0.85">B</text>
<clipPath id="clipB"><rect x="70.4" y="352.0" width="270.5" height="180.1"/></clipPath>
<rect x="70.4" y="352.0" width="270.5" height="180.1" fill="none" stroke="#000" stroke-width="1.9"/>
<g clip-path="url(#clipB)">
<line x1="70.40" y1="532.10" x2="250.73" y2="338.04" stroke="#ee3224" stroke-width="1.40" stroke-dasharray="6,2.5"/>
<line x1="70.40" y1="532.10" x2="340.90" y2="409.52" stroke="#0f9a48" stroke-width="1.40" stroke-dasharray="6,2.5"/>
<line x1="70.40" y1="535.48" x2="340.90" y2="445.65" stroke="#2e3192" stroke-width="1.40" stroke-dasharray="6,2.5"/>
</g>
<circle cx="105.6" cy="525.6" r="6.2" fill="#2e3192"/>
<circle cx="140.7" cy="511.6" r="6.2" fill="#2e3192"/>
<circle cx="176.3" cy="498.8" r="6.2" fill="#2e3192"/>
<circle cx="211.4" cy="488.0" r="6.2" fill="#2e3192"/>
<circle cx="247.1" cy="478.3" r="6.2" fill="#2e3192"/>
<circle cx="281.9" cy="464.8" r="6.2" fill="#2e3192"/>
<circle cx="113.7" cy="510.9" r="6.2" fill="#0f9a48"/>
<circle cx="157.5" cy="490.0" r="6.2" fill="#0f9a48"/>
<circle cx="200.8" cy="471.8" r="6.2" fill="#0f9a48"/>
<circle cx="244.4" cy="452.0" r="6.2" fill="#0f9a48"/>
<circle cx="288.1" cy="431.2" r="6.2" fill="#0f9a48"/>
<circle cx="331.3" cy="414.4" r="6.2" fill="#0f9a48"/>
<circle cx="70.4" cy="532.1" r="6.2" fill="#ee3224"/>
<circle cx="96.9" cy="497.4" r="6.2" fill="#ee3224"/>
<circle cx="124.0" cy="468.6" r="6.2" fill="#ee3224"/>
<circle cx="150.1" cy="441.6" r="6.2" fill="#ee3224"/>
<circle cx="177.2" cy="418.4" r="6.2" fill="#ee3224"/>
<circle cx="203.5" cy="392.5" r="6.2" fill="#ee3224"/>
<circle cx="230.5" cy="360.1" r="6.2" fill="#ee3224"/>
<line x1="70.40" y1="532.10" x2="70.40" y2="539.60" stroke="#000" stroke-width="1.60" />
<text x="70.40" y="556.60" font-size="12.60" fill="#050505" text-anchor="middle"><tspan >0</tspan></text>
<line x1="124.50" y1="532.10" x2="124.50" y2="539.60" stroke="#000" stroke-width="1.60" />
<text x="124.50" y="556.60" font-size="12.60" fill="#050505" text-anchor="middle"><tspan >3</tspan></text>
<line x1="178.60" y1="532.10" x2="178.60" y2="539.60" stroke="#000" stroke-width="1.60" />
<text x="178.60" y="556.60" font-size="12.60" fill="#050505" text-anchor="middle"><tspan >6</tspan></text>
<line x1="232.70" y1="532.10" x2="232.70" y2="539.60" stroke="#000" stroke-width="1.60" />
<text x="232.70" y="556.60" font-size="12.60" fill="#050505" text-anchor="middle"><tspan >9</tspan></text>
<line x1="286.80" y1="532.10" x2="286.80" y2="539.60" stroke="#000" stroke-width="1.60" />
<text x="286.80" y="556.60" font-size="12.60" fill="#050505" text-anchor="middle"><tspan >12</tspan></text>
<line x1="340.90" y1="532.10" x2="340.90" y2="539.60" stroke="#000" stroke-width="1.60" />
<text x="340.90" y="556.60" font-size="12.60" fill="#050505" text-anchor="middle"><tspan >15</tspan></text>
<line x1="62.90" y1="532.10" x2="70.40" y2="532.10" stroke="#000" stroke-width="1.60" />
<text x="59.90" y="536.70" font-size="13.50" fill="#050505" text-anchor="end" textLength="17.60" lengthAdjust="spacingAndGlyphs"><tspan >1.0</tspan></text>
<line x1="62.90" y1="487.08" x2="70.40" y2="487.08" stroke="#000" stroke-width="1.60" />
<text x="59.90" y="491.68" font-size="13.50" fill="#050505" text-anchor="end" textLength="17.60" lengthAdjust="spacingAndGlyphs"><tspan >1.2</tspan></text>
<line x1="62.90" y1="442.05" x2="70.40" y2="442.05" stroke="#000" stroke-width="1.60" />
<text x="59.90" y="446.65" font-size="13.50" fill="#050505" text-anchor="end" textLength="17.60" lengthAdjust="spacingAndGlyphs"><tspan >1.4</tspan></text>
<line x1="62.90" y1="397.02" x2="70.40" y2="397.02" stroke="#000" stroke-width="1.60" />
<text x="59.90" y="401.62" font-size="13.50" fill="#050505" text-anchor="end" textLength="17.60" lengthAdjust="spacingAndGlyphs"><tspan >1.6</tspan></text>
<line x1="62.90" y1="352.00" x2="70.40" y2="352.00" stroke="#000" stroke-width="1.60" />
<text x="59.90" y="356.60" font-size="13.50" fill="#050505" text-anchor="end" textLength="17.60" lengthAdjust="spacingAndGlyphs"><tspan >1.8</tspan></text>
<line x1="65.90" y1="509.59" x2="70.40" y2="509.59" stroke="#000" stroke-width="1.60" />
<line x1="65.90" y1="464.56" x2="70.40" y2="464.56" stroke="#000" stroke-width="1.60" />
<line x1="65.90" y1="419.54" x2="70.40" y2="419.54" stroke="#000" stroke-width="1.60" />
<line x1="65.90" y1="374.51" x2="70.40" y2="374.51" stroke="#000" stroke-width="1.60" />
<text x="203.50" y="575.40" font-size="14.50" fill="#050505" text-anchor="middle" font-weight="bold" textLength="158.00" lengthAdjust="spacingAndGlyphs"><tspan font-weight="bold" stroke="#050505" stroke-width="0.50">concentration (mM)</tspan></text>
<text transform="translate(33,449) rotate(-90)" text-anchor="middle" font-size="20.5" fill="#050505">τ<tspan font-size="13" dy="4">0</tspan><tspan dy="-4" font-weight="bold">/</tspan>τ</text>
<text x="162.00" y="390.00" font-size="18.00" fill="#ee3224" text-anchor="middle" textLength="21.00" lengthAdjust="spacingAndGlyphs"><tspan >[</tspan><tspan font-weight="bold" stroke="#ee3224" stroke-width="0.50">1</tspan><tspan >]</tspan></text>
<text x="251.50" y="428.00" font-size="18.00" fill="#0f9a48" text-anchor="middle" textLength="22.00" lengthAdjust="spacingAndGlyphs"><tspan >[</tspan><tspan font-weight="bold" stroke="#0f9a48" stroke-width="0.50">2</tspan><tspan >]</tspan></text>
<text x="276.00" y="500.00" font-size="18.00" fill="#2e3192" text-anchor="middle" textLength="22.00" lengthAdjust="spacingAndGlyphs"><tspan >[</tspan><tspan font-weight="bold" stroke="#2e3192" stroke-width="0.50">3</tspan><tspan >]</tspan></text>
<text transform="translate(372.00,354.00) scale(0.74,1)" font-size="24.5" font-weight="bold" fill="#1c120c" stroke="#1c120c" stroke-width="0.85">C</text>
<polygon points="412.0,400.5 418.2,379.2 440.4,379.2 446.6,399.9 429.2,412.0" fill="#e6e6e6"/>
<line x1="412.00" y1="400.50" x2="418.20" y2="379.20" stroke="#050505" stroke-width="1.45" stroke-linecap="round"/>
<line x1="418.20" y1="379.20" x2="440.40" y2="379.20" stroke="#050505" stroke-width="1.45" stroke-linecap="round"/>
<line x1="440.40" y1="379.20" x2="446.60" y2="399.90" stroke="#050505" stroke-width="1.45" stroke-linecap="round"/>
<line x1="446.60" y1="399.90" x2="434.13" y2="408.57" stroke="#050505" stroke-width="1.45" stroke-linecap="round"/>
<line x1="418.39" y1="404.77" x2="412.00" y2="400.50" stroke="#050505" stroke-width="1.45" stroke-linecap="round"/>
<line x1="416.13" y1="398.47" x2="420.60" y2="383.13" stroke="#050505" stroke-width="1.45" stroke-linecap="round"/>
<line x1="438.01" y1="383.07" x2="442.47" y2="397.98" stroke="#050505" stroke-width="1.45" stroke-linecap="round"/>
<line x1="412.00" y1="400.50" x2="396.00" y2="405.50" stroke="#050505" stroke-width="1.45" stroke-linecap="round"/>
<text x="377.50" y="412.00" font-size="14.50" fill="#050505" textLength="17.30" lengthAdjust="spacingAndGlyphs"><tspan >Ph</tspan></text>
<text x="412.00" y="412.20" font-size="10.00" fill="#c9202d" textLength="9.60" lengthAdjust="spacingAndGlyphs" stroke="#c9202d" stroke-width="0.35"><tspan >18</tspan></text>
<text x="429.00" y="417.60" font-size="14.00" fill="#c9202d" text-anchor="middle"><tspan font-weight="bold" stroke="#c9202d" stroke-width="0.50">O</tspan></text>
<text x="424.00" y="465.50" font-size="16.50" fill="#050505" text-anchor="middle" textLength="48.00" lengthAdjust="spacingAndGlyphs"><tspan font-weight="bold" stroke="#050505" stroke-width="0.50">4-</tspan><tspan dy="-6.10" font-size="11.88" font-weight="bold" stroke="#050505" stroke-width="0.20">18</tspan><tspan dy="6.10" font-weight="bold" stroke="#050505" stroke-width="0.50">O</tspan></text>
<text x="421.70" y="490.00" font-size="15.00" fill="#222" text-anchor="middle" textLength="70.00" lengthAdjust="spacingAndGlyphs"><tspan >(63% </tspan><tspan dy="-5.55" font-size="10.80">18</tspan><tspan dy="5.55">O)</tspan></text>
<line x1="474.00" y1="397.30" x2="577.74" y2="397.30" stroke="#000" stroke-width="2.00" />
<polygon points="590.70,397.30 572.70,402.55 577.74,397.30 572.70,392.05" fill="#000"/>
<text x="530.00" y="360.50" font-size="16.00" fill="#050505" text-anchor="middle" textLength="50.00" lengthAdjust="spacingAndGlyphs"><tspan >Bn</tspan><tspan fill="#3b55a5">N</tspan><tspan >H</tspan><tspan dy="4.48" font-size="11.52">2</tspan></text>
<text x="529.50" y="384.50" font-size="16.00" fill="#050505" text-anchor="middle" textLength="62.00" lengthAdjust="spacingAndGlyphs"><tspan font-style="italic">cat.</tspan><tspan > </tspan><tspan font-weight="bold" stroke="#050505" stroke-width="0.50">PC1</tspan></text>
<text x="530.30" y="427.00" font-size="16.00" fill="#222" text-anchor="middle" textLength="99.00" lengthAdjust="spacingAndGlyphs"><tspan >CH</tspan><tspan dy="4.48" font-size="11.52">2</tspan><tspan dy="-4.48">Cl</tspan><tspan dy="4.48" font-size="11.52">2</tspan><tspan dy="-4.48">, 23 °C</tspan></text>
<text x="530.70" y="449.50" font-size="16.00" fill="#4f68b5" text-anchor="middle" textLength="73.00" lengthAdjust="spacingAndGlyphs"><tspan >Blue LEDs</tspan></text>
<text x="530.70" y="471.50" font-size="16.00" fill="#222" text-anchor="middle" textLength="70.00" lengthAdjust="spacingAndGlyphs"><tspan >45% yield</tspan></text>
<polygon points="633.6,396.4 639.8,376.1 661.4,376.1 668.0,396.4 650.7,408.4" fill="#bfd5ef"/>
<circle cx="651" cy="408.3" r="5.5" fill="#fff"/>
<line x1="633.60" y1="396.40" x2="639.80" y2="376.10" stroke="#050505" stroke-width="1.45" stroke-linecap="round"/>
<line x1="639.80" y1="376.10" x2="661.40" y2="376.10" stroke="#050505" stroke-width="1.45" stroke-linecap="round"/>
<line x1="661.40" y1="376.10" x2="668.00" y2="396.40" stroke="#050505" stroke-width="1.45" stroke-linecap="round"/>
<line x1="668.00" y1="396.40" x2="655.63" y2="404.98" stroke="#050505" stroke-width="1.45" stroke-linecap="round"/>
<line x1="645.79" y1="404.95" x2="633.60" y2="396.40" stroke="#050505" stroke-width="1.45" stroke-linecap="round"/>
<line x1="637.72" y1="394.55" x2="642.18" y2="379.94" stroke="#050505" stroke-width="1.45" stroke-linecap="round"/>
<line x1="659.09" y1="379.99" x2="663.84" y2="394.61" stroke="#050505" stroke-width="1.45" stroke-linecap="round"/>
<line x1="633.60" y1="396.40" x2="618.00" y2="401.50" stroke="#050505" stroke-width="1.45" stroke-linecap="round"/>
<text x="599.50" y="408.00" font-size="14.50" fill="#050505" textLength="17.30" lengthAdjust="spacingAndGlyphs"><tspan >Ph</tspan></text>
<text x="651.00" y="413.50" font-size="14.50" fill="#3b55a5" text-anchor="middle"><tspan >N</tspan></text>
<text x="654.50" y="427.00" font-size="14.50" fill="#050505" text-anchor="middle" textLength="17.70" lengthAdjust="spacingAndGlyphs"><tspan >Bn</tspan></text>
<text x="647.70" y="463.60" font-size="16.50" fill="#050505" text-anchor="middle" font-weight="bold"><tspan font-weight="bold" stroke="#050505" stroke-width="0.50">5</tspan></text>
<text x="633.50" y="494.50" font-size="17.50" fill="#050505" text-anchor="middle" textLength="62.00" lengthAdjust="spacingAndGlyphs"><tspan >+H</tspan><tspan dy="4.90" font-size="12.60">2</tspan><tspan dy="-11.38" font-size="12.60" font-weight="bold" stroke="#c8102e" stroke-width="0.50" fill="#c8102e">18</tspan><tspan dy="6.47" font-weight="bold" stroke="#c8102e" stroke-width="0.50" fill="#c8102e">O</tspan></text>
<rect x="576" y="513.3" width="114.7" height="48.4" rx="4.5" fill="#fff" stroke="#a8a8a8" stroke-width="1.3"/>
<text x="633.00" y="535.30" font-size="17.50" fill="#050505" text-anchor="middle" textLength="96.00" lengthAdjust="spacingAndGlyphs"><tspan >detected by</tspan></text>
<text x="633.00" y="552.00" font-size="17.00" fill="#050505" text-anchor="middle" textLength="56.70" lengthAdjust="spacingAndGlyphs"><tspan >GC-MS</tspan></text>
<text transform="translate(709.00,354.00) scale(0.76,1)" font-size="24.5" font-weight="bold" fill="#1c120c" stroke="#1c120c" stroke-width="0.85">D</text>
<polygon points="772.9,382.8 751.5,382.8 745.3,402.5 762.5,415.3 779.6,402.5" fill="#ececec"/>
<circle cx="762.5" cy="415.3" r="5.8" fill="#fff"/>
<line x1="772.90" y1="382.80" x2="751.50" y2="382.80" stroke="#050505" stroke-width="1.45" stroke-linecap="round"/>
<line x1="751.50" y1="382.80" x2="745.30" y2="402.50" stroke="#050505" stroke-width="1.45" stroke-linecap="round"/>
<line x1="745.30" y1="402.50" x2="757.45" y2="411.54" stroke="#050505" stroke-width="1.45" stroke-linecap="round"/>
<line x1="767.54" y1="411.52" x2="779.60" y2="402.50" stroke="#050505" stroke-width="1.45" stroke-linecap="round"/>
<line x1="779.60" y1="402.50" x2="772.90" y2="382.80" stroke="#050505" stroke-width="1.45" stroke-linecap="round"/>
<line x1="754.16" y1="386.67" x2="749.70" y2="400.85" stroke="#050505" stroke-width="1.45" stroke-linecap="round"/>
<line x1="775.16" y1="400.93" x2="770.34" y2="386.75" stroke="#050505" stroke-width="1.45" stroke-linecap="round"/>
<line x1="772.90" y1="382.80" x2="780.80" y2="371.80" stroke="#050505" stroke-width="1.45" stroke-linecap="round"/>
<text x="781.70" y="370.90" font-size="14.50" fill="#050505" textLength="16.60" lengthAdjust="spacingAndGlyphs"><tspan >Ph</tspan></text>
<text x="762.50" y="420.40" font-size="14.50" fill="#dd232c" text-anchor="middle"><tspan >O</tspan></text>
<text x="764.90" y="463.80" font-size="16.50" fill="#050505" text-anchor="middle" font-weight="bold"><tspan font-weight="bold" stroke="#050505" stroke-width="0.50">1</tspan></text>
<line x1="803.00" y1="397.00" x2="982.84" y2="397.00" stroke="#000" stroke-width="2.00" />
<polygon points="996.30,397.00 977.60,402.10 982.84,397.00 977.60,391.90" fill="#000"/>
<circle cx="870.6" cy="350.3" r="8.2" fill="#4560ad"/>
<line x1="878.00" y1="350.50" x2="888.00" y2="350.50" stroke="#050505" stroke-width="1.50" />
<text x="889.00" y="357.00" font-size="16.00" fill="#050505" textLength="31.00" lengthAdjust="spacingAndGlyphs"><tspan fill="#3b55a5">NH</tspan><tspan dy="4.48" font-size="11.52" fill="#3b55a5">2</tspan></text>
<text x="933.80" y="356.90" font-size="16.50" fill="#050505" text-anchor="middle" font-weight="bold"><tspan font-weight="bold" stroke="#050505" stroke-width="0.50">2</tspan></text>
<text x="900.00" y="382.00" font-size="16.00" fill="#050505" text-anchor="middle" textLength="96.00" lengthAdjust="spacingAndGlyphs"><tspan >4 mol % </tspan><tspan font-weight="bold" stroke="#050505" stroke-width="0.50">PC1</tspan></text>
<text x="899.00" y="422.00" font-size="16.00" fill="#222" text-anchor="middle" textLength="102.00" lengthAdjust="spacingAndGlyphs"><tspan >CD</tspan><tspan dy="4.48" font-size="11.52">2</tspan><tspan dy="-4.48">Cl</tspan><tspan dy="4.48" font-size="11.52">2</tspan><tspan dy="-4.48">, 23 °C</tspan></text>
<text x="898.50" y="444.20" font-size="16.00" fill="#4f68b5" text-anchor="middle" textLength="190.00" lengthAdjust="spacingAndGlyphs"><tspan >LED fiber optics (445 nm)</tspan></text>
<text x="897.20" y="467.50" font-size="16.00" fill="#050505" text-anchor="middle" font-weight="bold" font-style="italic" textLength="155.50" lengthAdjust="spacingAndGlyphs"><tspan font-weight="bold" stroke="#050505" stroke-width="0.50">Photo-NMR kinetics</tspan></text>
<polygon points="1036.8,377.1 1015.5,377.1 1008.7,397.0 1026.2,409.1 1043.4,397.0" fill="#bfd5ef"/>
<circle cx="1026.2" cy="409.1" r="5.3" fill="#fff"/>
<line x1="1036.80" y1="377.10" x2="1015.50" y2="377.10" stroke="#050505" stroke-width="1.45" stroke-linecap="round"/>
<line x1="1015.50" y1="377.10" x2="1008.70" y2="397.00" stroke="#050505" stroke-width="1.45" stroke-linecap="round"/>
<line x1="1008.70" y1="397.00" x2="1021.02" y2="405.52" stroke="#050505" stroke-width="1.45" stroke-linecap="round"/>
<line x1="1031.35" y1="405.48" x2="1043.40" y2="397.00" stroke="#050505" stroke-width="1.45" stroke-linecap="round"/>
<line x1="1043.40" y1="397.00" x2="1036.80" y2="377.10" stroke="#050505" stroke-width="1.45" stroke-linecap="round"/>
<line x1="1018.05" y1="381.08" x2="1013.15" y2="395.41" stroke="#050505" stroke-width="1.45" stroke-linecap="round"/>
<line x1="1038.96" y1="395.38" x2="1034.21" y2="381.05" stroke="#050505" stroke-width="1.45" stroke-linecap="round"/>
<line x1="1036.80" y1="377.10" x2="1043.60" y2="366.40" stroke="#050505" stroke-width="1.45" stroke-linecap="round"/>
<text x="1044.80" y="364.60" font-size="14.50" fill="#050505" textLength="16.50" lengthAdjust="spacingAndGlyphs"><tspan >Ph</tspan></text>
<text x="1026.20" y="414.30" font-size="14.50" fill="#3b55a5" text-anchor="middle"><tspan >N</tspan></text>
<line x1="1026.20" y1="417.10" x2="1026.20" y2="423.50" stroke="#050505" stroke-width="1.50" />
<circle cx="1026.2" cy="430.4" r="7.5" fill="#4560ad"/>
<text x="1026.20" y="463.60" font-size="16.50" fill="#050505" text-anchor="middle" font-weight="bold"><tspan font-weight="bold" stroke="#050505" stroke-width="0.50">3</tspan></text>
<rect x="738.7" y="500" width="308" height="62.8" rx="8" fill="#fff" stroke="#a8a8a8" stroke-width="1.3"/>
<text x="890.50" y="523.50" font-size="17.00" fill="#050505" text-anchor="middle" textLength="205.00" lengthAdjust="spacingAndGlyphs"><tspan >rate= </tspan><tspan font-style="italic">k</tspan><tspan dy="4.76" font-size="12.24">obs</tspan><tspan dy="-4.76">[</tspan><tspan font-weight="bold" stroke="#050505" stroke-width="0.50">1</tspan><tspan >]</tspan><tspan dy="-6.29" font-size="12.24">0</tspan><tspan dy="6.29">[</tspan><tspan font-weight="bold" stroke="#050505" stroke-width="0.50">2</tspan><tspan >]</tspan><tspan dy="-6.29" font-size="12.24">-1</tspan><tspan dy="6.29">[</tspan><tspan font-weight="bold" stroke="#050505" stroke-width="0.50">PC1</tspan><tspan >]</tspan><tspan dy="-6.29" font-size="12.24">0.1</tspan></text>
<text x="891.00" y="552.00" font-size="17.00" fill="#050505" text-anchor="middle" textLength="281.50" lengthAdjust="spacingAndGlyphs"><tspan >Reaction quantum yield Φ</tspan><tspan dy="4.76" font-size="12.24">rxn</tspan><tspan dy="-4.76"> = 0.39</tspan></text>
<text transform="translate(15.50,617.00) scale(0.70,1)" font-size="24.5" font-weight="bold" fill="#1c120c" stroke="#1c120c" stroke-width="0.85">E</text>
<rect x="73.4" y="610.0" width="268.7" height="178.8" fill="none" stroke="#000" stroke-width="1.9"/>
<circle cx="74.0" cy="788.8" r="3.4" fill="#2e3192"/>
<circle cx="76.1" cy="786.8" r="3.4" fill="#2e3192"/>
<circle cx="78.1" cy="784.8" r="3.4" fill="#2e3192"/>
<circle cx="80.2" cy="782.8" r="3.4" fill="#2e3192"/>
<circle cx="82.2" cy="780.9" r="3.4" fill="#2e3192"/>
<circle cx="84.3" cy="778.9" r="3.4" fill="#2e3192"/>
<circle cx="86.3" cy="776.9" r="3.4" fill="#2e3192"/>
<circle cx="89.4" cy="773.9" r="3.4" fill="#2e3192"/>
<circle cx="92.5" cy="770.9" r="3.4" fill="#2e3192"/>
<circle cx="95.6" cy="767.9" r="3.4" fill="#2e3192"/>
<circle cx="98.7" cy="765.0" r="3.4" fill="#2e3192"/>
<circle cx="104.9" cy="759.0" r="3.4" fill="#2e3192"/>
<circle cx="111.0" cy="754.4" r="3.4" fill="#2e3192"/>
<circle cx="117.2" cy="749.8" r="3.4" fill="#2e3192"/>
<circle cx="125.5" cy="743.7" r="3.4" fill="#2e3192"/>
<circle cx="135.8" cy="736.1" r="3.4" fill="#2e3192"/>
<circle cx="146.0" cy="729.3" r="3.4" fill="#2e3192"/>
<circle cx="156.3" cy="722.5" r="3.4" fill="#2e3192"/>
<circle cx="166.6" cy="715.8" r="3.4" fill="#2e3192"/>
<circle cx="197.5" cy="700.3" r="3.4" fill="#2e3192"/>
<circle cx="228.4" cy="689.0" r="3.4" fill="#2e3192"/>
<circle cx="259.2" cy="681.2" r="3.4" fill="#2e3192"/>
<circle cx="290.1" cy="669.0" r="3.4" fill="#2e3192"/>
<circle cx="321.0" cy="663.3" r="3.4" fill="#2e3192"/>
<circle cx="74.0" cy="788.8" r="3.4" fill="#ee3224"/>
<circle cx="76.1" cy="786.7" r="3.4" fill="#ee3224"/>
<circle cx="78.1" cy="784.6" r="3.4" fill="#ee3224"/>
<circle cx="80.2" cy="782.5" r="3.4" fill="#ee3224"/>
<circle cx="82.2" cy="780.5" r="3.4" fill="#ee3224"/>
<circle cx="84.3" cy="778.4" r="3.4" fill="#ee3224"/>
<circle cx="86.3" cy="776.3" r="3.4" fill="#ee3224"/>
<circle cx="89.4" cy="773.2" r="3.4" fill="#ee3224"/>
<circle cx="92.5" cy="770.0" r="3.4" fill="#ee3224"/>
<circle cx="95.6" cy="766.9" r="3.4" fill="#ee3224"/>
<circle cx="98.7" cy="763.8" r="3.4" fill="#ee3224"/>
<circle cx="104.9" cy="757.5" r="3.4" fill="#ee3224"/>
<circle cx="111.0" cy="753.5" r="3.4" fill="#ee3224"/>
<circle cx="117.2" cy="749.4" r="3.4" fill="#ee3224"/>
<circle cx="125.5" cy="744.0" r="3.4" fill="#ee3224"/>
<circle cx="135.8" cy="737.2" r="3.4" fill="#ee3224"/>
<circle cx="146.0" cy="730.9" r="3.4" fill="#ee3224"/>
<circle cx="156.3" cy="724.5" r="3.4" fill="#ee3224"/>
<circle cx="166.6" cy="718.2" r="3.4" fill="#ee3224"/>
<circle cx="197.5" cy="706.0" r="3.4" fill="#ee3224"/>
<circle cx="228.4" cy="691.1" r="3.4" fill="#ee3224"/>
<circle cx="259.2" cy="680.0" r="3.4" fill="#ee3224"/>
<circle cx="290.1" cy="668.4" r="3.4" fill="#ee3224"/>
<circle cx="321.0" cy="658.9" r="3.4" fill="#ee3224"/>
<circle cx="74.0" cy="788.8" r="3.4" fill="#0f9a48"/>
<circle cx="76.1" cy="786.5" r="3.4" fill="#0f9a48"/>
<circle cx="78.1" cy="784.2" r="3.4" fill="#0f9a48"/>
<circle cx="80.2" cy="781.9" r="3.4" fill="#0f9a48"/>
<circle cx="82.2" cy="779.7" r="3.4" fill="#0f9a48"/>
<circle cx="84.3" cy="777.4" r="3.4" fill="#0f9a48"/>
<circle cx="86.3" cy="775.1" r="3.4" fill="#0f9a48"/>
<circle cx="89.4" cy="771.7" r="3.4" fill="#0f9a48"/>
<circle cx="92.5" cy="768.2" r="3.4" fill="#0f9a48"/>
<circle cx="95.6" cy="764.8" r="3.4" fill="#0f9a48"/>
<circle cx="98.7" cy="761.4" r="3.4" fill="#0f9a48"/>
<circle cx="104.9" cy="754.5" r="3.4" fill="#0f9a48"/>
<circle cx="111.0" cy="749.4" r="3.4" fill="#0f9a48"/>
<circle cx="117.2" cy="744.3" r="3.4" fill="#0f9a48"/>
<circle cx="125.5" cy="737.4" r="3.4" fill="#0f9a48"/>
<circle cx="135.8" cy="728.9" r="3.4" fill="#0f9a48"/>
<circle cx="146.0" cy="721.8" r="3.4" fill="#0f9a48"/>
<circle cx="156.3" cy="714.8" r="3.4" fill="#0f9a48"/>
<circle cx="166.6" cy="707.7" r="3.4" fill="#0f9a48"/>
<circle cx="197.5" cy="692.8" r="3.4" fill="#0f9a48"/>
<circle cx="228.4" cy="683.9" r="3.4" fill="#0f9a48"/>
<circle cx="259.2" cy="674.1" r="3.4" fill="#0f9a48"/>
<circle cx="290.1" cy="666.0" r="3.4" fill="#0f9a48"/>
<circle cx="325.1" cy="655.0" r="3.4" fill="#0f9a48"/>
<line x1="74.00" y1="788.80" x2="74.00" y2="796.80" stroke="#000" stroke-width="1.60" />
<text x="74.00" y="812.90" font-size="12.40" fill="#050505" text-anchor="middle"><tspan >0</tspan></text>
<line x1="135.75" y1="788.80" x2="135.75" y2="796.80" stroke="#000" stroke-width="1.60" />
<text x="135.75" y="812.90" font-size="12.40" fill="#050505" text-anchor="middle"><tspan >30</tspan></text>
<line x1="197.50" y1="788.80" x2="197.50" y2="796.80" stroke="#000" stroke-width="1.60" />
<text x="197.50" y="812.90" font-size="12.40" fill="#050505" text-anchor="middle"><tspan >60</tspan></text>
<line x1="259.25" y1="788.80" x2="259.25" y2="796.80" stroke="#000" stroke-width="1.60" />
<text x="259.25" y="812.90" font-size="12.40" fill="#050505" text-anchor="middle"><tspan >90</tspan></text>
<line x1="321.00" y1="788.80" x2="321.00" y2="796.80" stroke="#000" stroke-width="1.60" />
<text x="321.00" y="812.90" font-size="12.40" fill="#050505" text-anchor="middle"><tspan >120</tspan></text>
<line x1="65.90" y1="788.80" x2="73.40" y2="788.80" stroke="#000" stroke-width="1.60" />
<text x="63.00" y="793.60" font-size="13.50" fill="#050505" text-anchor="end" textLength="25.30" lengthAdjust="spacingAndGlyphs"><tspan >0.00</tspan></text>
<line x1="65.90" y1="729.20" x2="73.40" y2="729.20" stroke="#000" stroke-width="1.60" />
<text x="63.00" y="734.00" font-size="13.50" fill="#050505" text-anchor="end" textLength="25.30" lengthAdjust="spacingAndGlyphs"><tspan >0.02</tspan></text>
<line x1="65.90" y1="669.60" x2="73.40" y2="669.60" stroke="#000" stroke-width="1.60" />
<text x="63.00" y="674.40" font-size="13.50" fill="#050505" text-anchor="end" textLength="25.30" lengthAdjust="spacingAndGlyphs"><tspan >0.04</tspan></text>
<line x1="65.90" y1="610.00" x2="73.40" y2="610.00" stroke="#000" stroke-width="1.60" />
<text x="63.00" y="614.80" font-size="13.50" fill="#050505" text-anchor="end" textLength="25.30" lengthAdjust="spacingAndGlyphs"><tspan >0.06</tspan></text>
<text x="201.70" y="836.50" font-size="16.50" fill="#050505" text-anchor="middle" font-weight="bold" textLength="60.00" lengthAdjust="spacingAndGlyphs"><tspan font-weight="bold" stroke="#050505" stroke-width="0.50">Σ [1]</tspan><tspan dy="-6.10" font-size="11.88" font-weight="bold" stroke="#050505" stroke-width="0.20">0</tspan><tspan dy="6.10" font-weight="bold" stroke="#050505" stroke-width="0.50">Δ</tspan><tspan font-weight="bold" stroke="#050505" stroke-width="0.50" font-style="italic">t</tspan></text>
<text transform="translate(29.5,697) rotate(-90)" text-anchor="middle" textLength="54.7" lengthAdjust="spacingAndGlyphs" font-size="16.5" font-weight="bold" fill="#050505">[3] (M)</text>
<circle cx="175" cy="733.5" r="3.4" fill="#ee3224"/>
<text x="195.00" y="737.50" font-size="11.50" fill="#222" textLength="138.00" lengthAdjust="spacingAndGlyphs"><tspan >[</tspan><tspan font-weight="bold" stroke="#222" stroke-width="0.20">1</tspan><tspan >]</tspan><tspan dy="3.22" font-size="8.28">0</tspan><tspan dy="-3.22">= 0.10 M, [</tspan><tspan font-weight="bold" stroke="#222" stroke-width="0.20">2</tspan><tspan >]</tspan><tspan dy="3.22" font-size="8.28">0</tspan><tspan dy="-3.22">= 0.36 M</tspan></text>
<circle cx="175" cy="752.2" r="3.4" fill="#2e3192"/>
<text x="195.00" y="756.20" font-size="11.50" fill="#222" textLength="138.00" lengthAdjust="spacingAndGlyphs"><tspan >[</tspan><tspan font-weight="bold" stroke="#222" stroke-width="0.20">1</tspan><tspan >]</tspan><tspan dy="3.22" font-size="8.28">0</tspan><tspan dy="-3.22">= 0.20 M, [</tspan><tspan font-weight="bold" stroke="#222" stroke-width="0.20">2</tspan><tspan >]</tspan><tspan dy="3.22" font-size="8.28">0</tspan><tspan dy="-3.22">= 0.36 M</tspan></text>
<circle cx="175" cy="770.9" r="3.4" fill="#0f9a48"/>
<text x="195.00" y="774.90" font-size="11.50" fill="#222" textLength="138.00" lengthAdjust="spacingAndGlyphs"><tspan >[</tspan><tspan font-weight="bold" stroke="#222" stroke-width="0.20">1</tspan><tspan >]</tspan><tspan dy="3.22" font-size="8.28">0</tspan><tspan dy="-3.22">= 0.30 M, [</tspan><tspan font-weight="bold" stroke="#222" stroke-width="0.20">2</tspan><tspan >]</tspan><tspan dy="3.22" font-size="8.28">0</tspan><tspan dy="-3.22">= 0.36 M</tspan></text>
<rect x="408.6" y="610.0" width="268.7" height="178.8" fill="none" stroke="#000" stroke-width="1.9"/>
<rect x="469.2" y="659.8" width="7" height="7" fill="#0f9a48"/>
<rect x="461.5" y="665.8" width="7" height="7" fill="#0f9a48"/>
<rect x="453.2" y="678.2" width="7" height="7" fill="#0f9a48"/>
<rect x="444.2" y="684.2" width="7" height="7" fill="#0f9a48"/>
<rect x="436.5" y="697.2" width="7" height="7" fill="#0f9a48"/>
<rect x="427.2" y="711.5" width="7" height="7" fill="#0f9a48"/>
<rect x="423.8" y="718.2" width="7" height="7" fill="#0f9a48"/>
<rect x="420.5" y="725.8" width="7" height="7" fill="#0f9a48"/>
<rect x="417.8" y="733.2" width="7" height="7" fill="#0f9a48"/>
<rect x="415.8" y="739.2" width="7" height="7" fill="#0f9a48"/>
<rect x="413.8" y="745.2" width="7" height="7" fill="#0f9a48"/>
<rect x="412.2" y="750.8" width="7" height="7" fill="#0f9a48"/>
<rect x="410.8" y="756.5" width="7" height="7" fill="#0f9a48"/>
<rect x="409.5" y="761.8" width="7" height="7" fill="#0f9a48"/>
<rect x="408.5" y="766.5" width="7" height="7" fill="#0f9a48"/>
<rect x="407.5" y="771.2" width="7" height="7" fill="#0f9a48"/>
<rect x="406.5" y="775.8" width="7" height="7" fill="#0f9a48"/>
<rect x="405.8" y="779.8" width="7" height="7" fill="#0f9a48"/>
<rect x="405.2" y="783.2" width="7" height="7" fill="#0f9a48"/>
<rect x="651.5" y="613.2" width="7" height="7" fill="#ee3224"/>
<rect x="616.5" y="617.5" width="7" height="7" fill="#ee3224"/>
<rect x="581.5" y="626.5" width="7" height="7" fill="#ee3224"/>
<rect x="548.2" y="635.5" width="7" height="7" fill="#ee3224"/>
<rect x="515.8" y="649.2" width="7" height="7" fill="#ee3224"/>
<rect x="484.2" y="661.5" width="7" height="7" fill="#ee3224"/>
<rect x="474.2" y="666.5" width="7" height="7" fill="#ee3224"/>
<rect x="465.5" y="672.5" width="7" height="7" fill="#ee3224"/>
<rect x="455.8" y="680.5" width="7" height="7" fill="#ee3224"/>
<rect x="446.5" y="690.5" width="7" height="7" fill="#ee3224"/>
<rect x="439.2" y="699.2" width="7" height="7" fill="#ee3224"/>
<rect x="432.5" y="707.2" width="7" height="7" fill="#ee3224"/>
<rect x="427.2" y="714.8" width="7" height="7" fill="#ee3224"/>
<rect x="423.8" y="722.5" width="7" height="7" fill="#ee3224"/>
<rect x="421.2" y="729.2" width="7" height="7" fill="#ee3224"/>
<rect x="418.8" y="735.2" width="7" height="7" fill="#ee3224"/>
<rect x="416.8" y="741.2" width="7" height="7" fill="#ee3224"/>
<rect x="415.2" y="746.5" width="7" height="7" fill="#ee3224"/>
<rect x="413.5" y="751.8" width="7" height="7" fill="#ee3224"/>
<rect x="412.2" y="757.2" width="7" height="7" fill="#ee3224"/>
<rect x="410.8" y="762.2" width="7" height="7" fill="#ee3224"/>
<rect x="409.5" y="767.2" width="7" height="7" fill="#ee3224"/>
<rect x="408.2" y="772.2" width="7" height="7" fill="#ee3224"/>
<rect x="406.8" y="776.8" width="7" height="7" fill="#ee3224"/>
<rect x="405.8" y="781.2" width="7" height="7" fill="#ee3224"/>
<rect x="404.8" y="785.5" width="7" height="7" fill="#ee3224"/>
<rect x="509.8" y="649.2" width="7" height="7" fill="#2e3192"/>
<rect x="495.5" y="655.5" width="7" height="7" fill="#2e3192"/>
<rect x="481.5" y="667.2" width="7" height="7" fill="#2e3192"/>
<rect x="468.8" y="674.2" width="7" height="7" fill="#2e3192"/>
<rect x="455.5" y="686.5" width="7" height="7" fill="#2e3192"/>
<rect x="442.5" y="703.2" width="7" height="7" fill="#2e3192"/>
<rect x="437.5" y="709.8" width="7" height="7" fill="#2e3192"/>
<rect x="433.2" y="715.8" width="7" height="7" fill="#2e3192"/>
<rect x="429.2" y="719.2" width="7" height="7" fill="#2e3192"/>
<rect x="423.8" y="725.5" width="7" height="7" fill="#2e3192"/>
<rect x="421.5" y="730.5" width="7" height="7" fill="#2e3192"/>
<rect x="419.2" y="735.8" width="7" height="7" fill="#2e3192"/>
<rect x="417.2" y="741.2" width="7" height="7" fill="#2e3192"/>
<rect x="415.5" y="745.8" width="7" height="7" fill="#2e3192"/>
<rect x="413.8" y="750.5" width="7" height="7" fill="#2e3192"/>
<rect x="412.5" y="755.2" width="7" height="7" fill="#2e3192"/>
<rect x="411.2" y="759.8" width="7" height="7" fill="#2e3192"/>
<rect x="409.8" y="764.2" width="7" height="7" fill="#2e3192"/>
<rect x="408.8" y="768.5" width="7" height="7" fill="#2e3192"/>
<rect x="407.8" y="772.8" width="7" height="7" fill="#2e3192"/>
<rect x="406.8" y="776.8" width="7" height="7" fill="#2e3192"/>
<rect x="406.2" y="780.5" width="7" height="7" fill="#2e3192"/>
<rect x="405.5" y="783.2" width="7" height="7" fill="#2e3192"/>
<rect x="404.8" y="785.5" width="7" height="7" fill="#2e3192"/>
<line x1="408.60" y1="788.80" x2="408.60" y2="796.80" stroke="#000" stroke-width="1.60" />
<text x="408.60" y="812.90" font-size="12.40" fill="#050505" text-anchor="middle"><tspan >0</tspan></text>
<line x1="458.74" y1="788.80" x2="458.74" y2="796.80" stroke="#000" stroke-width="1.60" />
<text x="458.74" y="812.90" font-size="12.40" fill="#050505" text-anchor="middle"><tspan >300</tspan></text>
<line x1="508.88" y1="788.80" x2="508.88" y2="796.80" stroke="#000" stroke-width="1.60" />
<text x="508.88" y="812.90" font-size="12.40" fill="#050505" text-anchor="middle"><tspan >600</tspan></text>
<line x1="559.02" y1="788.80" x2="559.02" y2="796.80" stroke="#000" stroke-width="1.60" />
<text x="559.02" y="812.90" font-size="12.40" fill="#050505" text-anchor="middle"><tspan >900</tspan></text>
<line x1="609.16" y1="788.80" x2="609.16" y2="796.80" stroke="#000" stroke-width="1.60" />
<text x="609.16" y="812.90" font-size="12.40" fill="#050505" text-anchor="middle"><tspan >1200</tspan></text>
<line x1="659.30" y1="788.80" x2="659.30" y2="796.80" stroke="#000" stroke-width="1.60" />
<text x="659.30" y="812.90" font-size="12.40" fill="#050505" text-anchor="middle"><tspan >1500</tspan></text>
<line x1="401.10" y1="788.80" x2="408.60" y2="788.80" stroke="#000" stroke-width="1.60" />
<text x="397.40" y="793.60" font-size="13.50" fill="#050505" text-anchor="end" textLength="25.30" lengthAdjust="spacingAndGlyphs"><tspan >0.00</tspan></text>
<line x1="401.10" y1="729.20" x2="408.60" y2="729.20" stroke="#000" stroke-width="1.60" />
<text x="397.40" y="734.00" font-size="13.50" fill="#050505" text-anchor="end" textLength="25.30" lengthAdjust="spacingAndGlyphs"><tspan >0.02</tspan></text>
<line x1="401.10" y1="669.60" x2="408.60" y2="669.60" stroke="#000" stroke-width="1.60" />
<text x="397.40" y="674.40" font-size="13.50" fill="#050505" text-anchor="end" textLength="25.30" lengthAdjust="spacingAndGlyphs"><tspan >0.04</tspan></text>
<line x1="401.10" y1="610.00" x2="408.60" y2="610.00" stroke="#000" stroke-width="1.60" />
<text x="397.40" y="614.80" font-size="13.50" fill="#050505" text-anchor="end" textLength="25.30" lengthAdjust="spacingAndGlyphs"><tspan >0.06</tspan></text>
<text x="539.00" y="836.50" font-size="16.50" fill="#050505" text-anchor="middle" font-weight="bold" textLength="62.00" lengthAdjust="spacingAndGlyphs"><tspan font-weight="bold" stroke="#050505" stroke-width="0.50">Σ [2]</tspan><tspan dy="-6.10" font-size="11.88" font-weight="bold" stroke="#050505" stroke-width="0.20">-1</tspan><tspan dy="6.10" font-weight="bold" stroke="#050505" stroke-width="0.50">Δ</tspan><tspan font-weight="bold" stroke="#050505" stroke-width="0.50" font-style="italic">t</tspan></text>
<text transform="translate(362.5,697) rotate(-90)" text-anchor="middle" textLength="54.7" lengthAdjust="spacingAndGlyphs" font-size="16.5" font-weight="bold" fill="#050505">[3] (M)</text>
<rect x="504.5" y="733.5" width="7" height="7" fill="#ee3224"/>
<text x="528.00" y="740.80" font-size="11.50" fill="#222" textLength="139.50" lengthAdjust="spacingAndGlyphs"><tspan >[</tspan><tspan font-weight="bold" stroke="#222" stroke-width="0.20">1</tspan><tspan >]</tspan><tspan dy="3.22" font-size="8.28">0</tspan><tspan dy="-3.22">= 0.10 M, [</tspan><tspan font-weight="bold" stroke="#222" stroke-width="0.20">2</tspan><tspan >]</tspan><tspan dy="3.22" font-size="8.28">0</tspan><tspan dy="-3.22">= 0.13 M</tspan></text>
<rect x="504.5" y="751.1" width="7" height="7" fill="#2e3192"/>
<text x="528.00" y="758.40" font-size="11.50" fill="#222" textLength="139.50" lengthAdjust="spacingAndGlyphs"><tspan >[</tspan><tspan font-weight="bold" stroke="#222" stroke-width="0.20">1</tspan><tspan >]</tspan><tspan dy="3.22" font-size="8.28">0</tspan><tspan dy="-3.22">= 0.10 M, [</tspan><tspan font-weight="bold" stroke="#222" stroke-width="0.20">2</tspan><tspan >]</tspan><tspan dy="3.22" font-size="8.28">0</tspan><tspan dy="-3.22">= 0.24 M</tspan></text>
<rect x="504.5" y="768.7" width="7" height="7" fill="#0f9a48"/>
<text x="528.00" y="776.00" font-size="11.50" fill="#222" textLength="139.50" lengthAdjust="spacingAndGlyphs"><tspan >[</tspan><tspan font-weight="bold" stroke="#222" stroke-width="0.20">1</tspan><tspan >]</tspan><tspan dy="3.22" font-size="8.28">0</tspan><tspan dy="-3.22">= 0.10 M, [</tspan><tspan font-weight="bold" stroke="#222" stroke-width="0.20">2</tspan><tspan >]</tspan><tspan dy="3.22" font-size="8.28">0</tspan><tspan dy="-3.22">= 0.36 M</tspan></text>
<text transform="translate(700.30,614.50) scale(0.68,1)" font-size="24.5" font-weight="bold" fill="#1c120c" stroke="#1c120c" stroke-width="0.85">F</text>
<rect x="811.3" y="610.3" width="53.2" height="178.3" fill="#cdd3ee"/>
<rect x="917.6" y="610.3" width="53.2" height="178.3" fill="#cdd3ee"/>
<line x1="811.28" y1="610.30" x2="811.28" y2="788.60" stroke="#000" stroke-width="1.30" stroke-dasharray="1.9,2.1"/>
<line x1="864.46" y1="610.30" x2="864.46" y2="788.60" stroke="#000" stroke-width="1.30" stroke-dasharray="1.9,2.1"/>
<line x1="917.64" y1="610.30" x2="917.64" y2="788.60" stroke="#000" stroke-width="1.30" stroke-dasharray="1.9,2.1"/>
<line x1="970.82" y1="610.30" x2="970.82" y2="788.60" stroke="#000" stroke-width="1.30" stroke-dasharray="1.9,2.1"/>
<line x1="758.10" y1="683.58" x2="1024.00" y2="683.58" stroke="#000" stroke-width="1.30" stroke-dasharray="1.9,2.1"/>
<line x1="758.10" y1="714.85" x2="1024.00" y2="714.85" stroke="#000" stroke-width="1.30" stroke-dasharray="1.9,2.1"/>
<line x1="758.10" y1="610.30" x2="1024.00" y2="610.30" stroke="#000" stroke-width="1.50" />
<line x1="757.10" y1="788.60" x2="1025.00" y2="788.60" stroke="#000" stroke-width="2.00" />
<line x1="758.10" y1="609.60" x2="758.10" y2="788.60" stroke="#000" stroke-width="2.10" />
<line x1="1024.00" y1="609.60" x2="1024.00" y2="788.60" stroke="#000" stroke-width="2.10" />
<line x1="758.10" y1="788.60" x2="758.10" y2="796.10" stroke="#000" stroke-width="1.70" />
<text x="758.10" y="812.00" font-size="12.40" fill="#050505" text-anchor="middle"><tspan >0</tspan></text>
<line x1="811.28" y1="788.60" x2="811.28" y2="796.10" stroke="#000" stroke-width="1.70" />
<text x="811.28" y="812.00" font-size="12.40" fill="#050505" text-anchor="middle"><tspan >10</tspan></text>
<line x1="864.46" y1="788.60" x2="864.46" y2="796.10" stroke="#000" stroke-width="1.70" />
<text x="864.46" y="812.00" font-size="12.40" fill="#050505" text-anchor="middle"><tspan >20</tspan></text>
<line x1="917.64" y1="788.60" x2="917.64" y2="796.10" stroke="#000" stroke-width="1.70" />
<text x="917.64" y="812.00" font-size="12.40" fill="#050505" text-anchor="middle"><tspan >30</tspan></text>
<line x1="970.82" y1="788.60" x2="970.82" y2="796.10" stroke="#000" stroke-width="1.70" />
<text x="970.82" y="812.00" font-size="12.40" fill="#050505" text-anchor="middle"><tspan >40</tspan></text>
<line x1="1024.00" y1="788.60" x2="1024.00" y2="796.10" stroke="#000" stroke-width="1.70" />
<text x="1024.00" y="812.00" font-size="12.40" fill="#050505" text-anchor="middle"><tspan >50</tspan></text>
<line x1="784.69" y1="788.60" x2="784.69" y2="792.80" stroke="#000" stroke-width="1.60" />
<line x1="837.87" y1="788.60" x2="837.87" y2="792.80" stroke="#000" stroke-width="1.60" />
<line x1="891.05" y1="788.60" x2="891.05" y2="792.80" stroke="#000" stroke-width="1.60" />
<line x1="944.23" y1="788.60" x2="944.23" y2="792.80" stroke="#000" stroke-width="1.60" />
<line x1="997.41" y1="788.60" x2="997.41" y2="792.80" stroke="#000" stroke-width="1.60" />
<line x1="750.60" y1="787.80" x2="758.10" y2="787.80" stroke="#000" stroke-width="1.90" />
<text x="747.10" y="792.40" font-size="13.00" fill="#ee3224" text-anchor="end"><tspan >50</tspan></text>
<line x1="1024.00" y1="784.90" x2="1033.50" y2="784.90" stroke="#000" stroke-width="1.90" />
<text x="1036.80" y="789.50" font-size="13.00" fill="#2e3192"><tspan >0</tspan></text>
<line x1="750.60" y1="753.06" x2="758.10" y2="753.06" stroke="#000" stroke-width="1.90" />
<text x="747.10" y="757.66" font-size="13.00" fill="#ee3224" text-anchor="end"><tspan >60</tspan></text>
<line x1="1024.00" y1="750.04" x2="1033.50" y2="750.04" stroke="#000" stroke-width="1.90" />
<text x="1036.80" y="754.64" font-size="13.00" fill="#2e3192"><tspan >10</tspan></text>
<line x1="750.60" y1="718.32" x2="758.10" y2="718.32" stroke="#000" stroke-width="1.90" />
<text x="747.10" y="722.92" font-size="13.00" fill="#ee3224" text-anchor="end"><tspan >70</tspan></text>
<line x1="1024.00" y1="715.18" x2="1033.50" y2="715.18" stroke="#000" stroke-width="1.90" />
<text x="1036.80" y="719.78" font-size="13.00" fill="#2e3192"><tspan >20</tspan></text>
<line x1="750.60" y1="683.58" x2="758.10" y2="683.58" stroke="#000" stroke-width="1.90" />
<text x="747.10" y="688.18" font-size="13.00" fill="#ee3224" text-anchor="end"><tspan >80</tspan></text>
<line x1="1024.00" y1="680.32" x2="1033.50" y2="680.32" stroke="#000" stroke-width="1.90" />
<text x="1036.80" y="684.92" font-size="13.00" fill="#2e3192"><tspan >30</tspan></text>
<line x1="750.60" y1="648.84" x2="758.10" y2="648.84" stroke="#000" stroke-width="1.90" />
<text x="747.10" y="653.44" font-size="13.00" fill="#ee3224" text-anchor="end"><tspan >90</tspan></text>
<line x1="1024.00" y1="645.46" x2="1033.50" y2="645.46" stroke="#000" stroke-width="1.90" />
<text x="1036.80" y="650.06" font-size="13.00" fill="#2e3192"><tspan >40</tspan></text>
<line x1="750.60" y1="614.10" x2="758.10" y2="614.10" stroke="#000" stroke-width="1.90" />
<text x="747.10" y="618.70" font-size="13.00" fill="#ee3224" text-anchor="end"><tspan >100</tspan></text>
<line x1="1024.00" y1="610.60" x2="1033.50" y2="610.60" stroke="#000" stroke-width="1.90" />
<text x="1036.80" y="615.20" font-size="13.00" fill="#2e3192"><tspan >50</tspan></text>
<circle cx="758.1" cy="784.9" r="4.5" fill="#2e3192"/>
<circle cx="763.4" cy="784.9" r="4.5" fill="#2e3192"/>
<circle cx="768.7" cy="784.9" r="4.5" fill="#2e3192"/>
<circle cx="774.1" cy="784.9" r="4.5" fill="#2e3192"/>
<circle cx="779.4" cy="784.9" r="4.5" fill="#2e3192"/>
<circle cx="784.7" cy="784.9" r="4.5" fill="#2e3192"/>
<circle cx="790.0" cy="784.9" r="4.5" fill="#2e3192"/>
<circle cx="795.3" cy="784.9" r="4.5" fill="#2e3192"/>
<circle cx="800.6" cy="784.9" r="4.5" fill="#2e3192"/>
<circle cx="806.0" cy="784.9" r="4.5" fill="#2e3192"/>
<circle cx="811.3" cy="784.9" r="4.5" fill="#2e3192"/>
<circle cx="816.6" cy="783.2" r="4.5" fill="#2e3192"/>
<circle cx="821.9" cy="777.9" r="4.5" fill="#2e3192"/>
<circle cx="827.2" cy="771.0" r="4.5" fill="#2e3192"/>
<circle cx="832.6" cy="765.7" r="4.5" fill="#2e3192"/>
<circle cx="837.9" cy="760.5" r="4.5" fill="#2e3192"/>
<circle cx="843.2" cy="755.3" r="4.5" fill="#2e3192"/>
<circle cx="848.5" cy="750.0" r="4.5" fill="#2e3192"/>
<circle cx="853.8" cy="744.8" r="4.5" fill="#2e3192"/>
<circle cx="859.1" cy="740.3" r="4.5" fill="#2e3192"/>
<circle cx="864.5" cy="736.1" r="4.5" fill="#2e3192"/>
<circle cx="869.8" cy="733.3" r="4.5" fill="#2e3192"/>
<circle cx="875.1" cy="730.9" r="4.5" fill="#2e3192"/>
<circle cx="880.4" cy="728.4" r="4.5" fill="#2e3192"/>
<circle cx="885.7" cy="726.3" r="4.5" fill="#2e3192"/>
<circle cx="891.0" cy="724.9" r="4.5" fill="#2e3192"/>
<circle cx="896.4" cy="723.9" r="4.5" fill="#2e3192"/>
<circle cx="901.7" cy="722.8" r="4.5" fill="#2e3192"/>
<circle cx="907.0" cy="722.2" r="4.5" fill="#2e3192"/>
<circle cx="912.3" cy="721.5" r="4.5" fill="#2e3192"/>
<circle cx="917.6" cy="721.5" r="4.5" fill="#2e3192"/>
<circle cx="923.0" cy="720.1" r="4.5" fill="#2e3192"/>
<circle cx="928.3" cy="718.7" r="4.5" fill="#2e3192"/>
<circle cx="933.6" cy="716.6" r="4.5" fill="#2e3192"/>
<circle cx="938.9" cy="713.8" r="4.5" fill="#2e3192"/>
<circle cx="944.2" cy="711.0" r="4.5" fill="#2e3192"/>
<circle cx="949.5" cy="708.2" r="4.5" fill="#2e3192"/>
<circle cx="954.9" cy="705.4" r="4.5" fill="#2e3192"/>
<circle cx="960.2" cy="703.0" r="4.5" fill="#2e3192"/>
<circle cx="965.5" cy="700.5" r="4.5" fill="#2e3192"/>
<circle cx="970.8" cy="698.8" r="4.5" fill="#2e3192"/>
<circle cx="976.1" cy="697.8" r="4.5" fill="#2e3192"/>
<circle cx="981.5" cy="697.1" r="4.5" fill="#2e3192"/>
<circle cx="986.8" cy="696.4" r="4.5" fill="#2e3192"/>
<circle cx="992.1" cy="695.7" r="4.5" fill="#2e3192"/>
<circle cx="997.4" cy="695.0" r="4.5" fill="#2e3192"/>
<circle cx="1002.7" cy="694.3" r="4.5" fill="#2e3192"/>
<circle cx="1008.0" cy="693.6" r="4.5" fill="#2e3192"/>
<circle cx="1013.4" cy="693.6" r="4.5" fill="#2e3192"/>
<circle cx="1018.7" cy="693.2" r="4.5" fill="#2e3192"/>
<circle cx="1024.0" cy="692.5" r="4.5" fill="#2e3192"/>
<circle cx="758.1" cy="614.1" r="4.5" fill="#ee3224"/>
<circle cx="763.4" cy="614.1" r="4.5" fill="#ee3224"/>
<circle cx="768.7" cy="614.1" r="4.5" fill="#ee3224"/>
<circle cx="774.1" cy="614.1" r="4.5" fill="#ee3224"/>
<circle cx="779.4" cy="614.1" r="4.5" fill="#ee3224"/>
<circle cx="784.7" cy="614.1" r="4.5" fill="#ee3224"/>
<circle cx="790.0" cy="610.6" r="4.5" fill="#ee3224"/>
<circle cx="795.3" cy="614.1" r="4.5" fill="#ee3224"/>
<circle cx="800.6" cy="614.1" r="4.5" fill="#ee3224"/>
<circle cx="806.0" cy="614.1" r="4.5" fill="#ee3224"/>
<circle cx="811.3" cy="614.1" r="4.5" fill="#ee3224"/>
<circle cx="816.6" cy="614.1" r="4.5" fill="#ee3224"/>
<circle cx="821.9" cy="628.0" r="4.5" fill="#ee3224"/>
<circle cx="827.2" cy="638.4" r="4.5" fill="#ee3224"/>
<circle cx="832.6" cy="647.8" r="4.5" fill="#ee3224"/>
<circle cx="837.9" cy="655.8" r="4.5" fill="#ee3224"/>
<circle cx="843.2" cy="663.4" r="4.5" fill="#ee3224"/>
<circle cx="848.5" cy="668.6" r="4.5" fill="#ee3224"/>
<circle cx="853.8" cy="673.2" r="4.5" fill="#ee3224"/>
<circle cx="859.1" cy="675.6" r="4.5" fill="#ee3224"/>
<circle cx="864.5" cy="682.2" r="4.5" fill="#ee3224"/>
<circle cx="869.8" cy="681.5" r="4.5" fill="#ee3224"/>
<circle cx="875.1" cy="680.8" r="4.5" fill="#ee3224"/>
<circle cx="880.4" cy="680.1" r="4.5" fill="#ee3224"/>
<circle cx="885.7" cy="680.1" r="4.5" fill="#ee3224"/>
<circle cx="891.0" cy="681.1" r="4.5" fill="#ee3224"/>
<circle cx="896.4" cy="680.8" r="4.5" fill="#ee3224"/>
<circle cx="901.7" cy="680.5" r="4.5" fill="#ee3224"/>
<circle cx="907.0" cy="681.5" r="4.5" fill="#ee3224"/>
<circle cx="912.3" cy="681.1" r="4.5" fill="#ee3224"/>
<circle cx="917.6" cy="682.2" r="4.5" fill="#ee3224"/>
<circle cx="923.0" cy="684.3" r="4.5" fill="#ee3224"/>
<circle cx="928.3" cy="689.8" r="4.5" fill="#ee3224"/>
<circle cx="933.6" cy="692.6" r="4.5" fill="#ee3224"/>
<circle cx="938.9" cy="694.0" r="4.5" fill="#ee3224"/>
<circle cx="944.2" cy="697.5" r="4.5" fill="#ee3224"/>
<circle cx="949.5" cy="700.9" r="4.5" fill="#ee3224"/>
<circle cx="954.9" cy="703.7" r="4.5" fill="#ee3224"/>
<circle cx="960.2" cy="706.2" r="4.5" fill="#ee3224"/>
<circle cx="965.5" cy="707.9" r="4.5" fill="#ee3224"/>
<circle cx="970.8" cy="707.9" r="4.5" fill="#ee3224"/>
<circle cx="976.1" cy="707.9" r="4.5" fill="#ee3224"/>
<circle cx="981.5" cy="708.6" r="4.5" fill="#ee3224"/>
<circle cx="986.8" cy="708.2" r="4.5" fill="#ee3224"/>
<circle cx="992.1" cy="707.9" r="4.5" fill="#ee3224"/>
<circle cx="997.4" cy="708.2" r="4.5" fill="#ee3224"/>
<circle cx="1002.7" cy="707.2" r="4.5" fill="#ee3224"/>
<circle cx="1008.0" cy="707.6" r="4.5" fill="#ee3224"/>
<circle cx="1013.4" cy="708.6" r="4.5" fill="#ee3224"/>
<circle cx="1018.7" cy="706.9" r="4.5" fill="#ee3224"/>
<circle cx="1024.0" cy="707.9" r="4.5" fill="#ee3224"/>
<text x="784.69" y="604.20" font-size="13.80" fill="#222" text-anchor="middle" font-style="italic"><tspan >off</tspan></text>
<text x="837.87" y="604.20" font-size="13.80" fill="#4a5aa8" text-anchor="middle" font-style="italic"><tspan >on</tspan></text>
<text x="891.05" y="604.20" font-size="13.80" fill="#222" text-anchor="middle" font-style="italic"><tspan >off</tspan></text>
<text x="944.23" y="604.20" font-size="13.80" fill="#2e3192" text-anchor="middle" font-style="italic"><tspan >on</tspan></text>
<text x="997.41" y="604.20" font-size="13.80" fill="#222" text-anchor="middle" font-style="italic"><tspan >off</tspan></text>
<text x="899.70" y="837.30" font-size="16.50" fill="#050505" text-anchor="middle" font-weight="bold" textLength="82.70" lengthAdjust="spacingAndGlyphs"><tspan font-weight="bold" stroke="#050505" stroke-width="0.50">time (min)</tspan></text>
<text transform="translate(719,699) rotate(-90)" text-anchor="middle" textLength="121" lengthAdjust="spacingAndGlyphs" font-size="17" fill="#ee3224">remaining <tspan font-weight="bold">1</tspan> (%)</text>
<text transform="translate(1062,703.5) rotate(90)" text-anchor="middle" textLength="118.6" lengthAdjust="spacingAndGlyphs" font-size="17" fill="#2e3192">produced <tspan font-weight="bold">3</tspan> (%)</text>
<line x1="818.00" y1="683.80" x2="841.64" y2="683.80" stroke="#ee3224" stroke-width="1.50" />
<polygon points="851.00,683.80 838.00,687.55 841.64,683.80 838.00,680.05" fill="#ee3224"/>
<text x="835.80" y="706.50" font-size="15.50" fill="#ee3224" text-anchor="middle" font-style="italic"><tspan >80%</tspan></text>
<line x1="893.50" y1="756.00" x2="878.69" y2="747.82" stroke="#2e3192" stroke-width="1.50" />
<polygon points="870.50,743.30 883.69,746.30 878.69,747.82 880.07,752.87" fill="#2e3192"/>
<text x="897.70" y="775.00" font-size="15.50" fill="#2e3192" text-anchor="middle" font-style="italic"><tspan >17%</tspan></text>
</svg>
</body></html>
